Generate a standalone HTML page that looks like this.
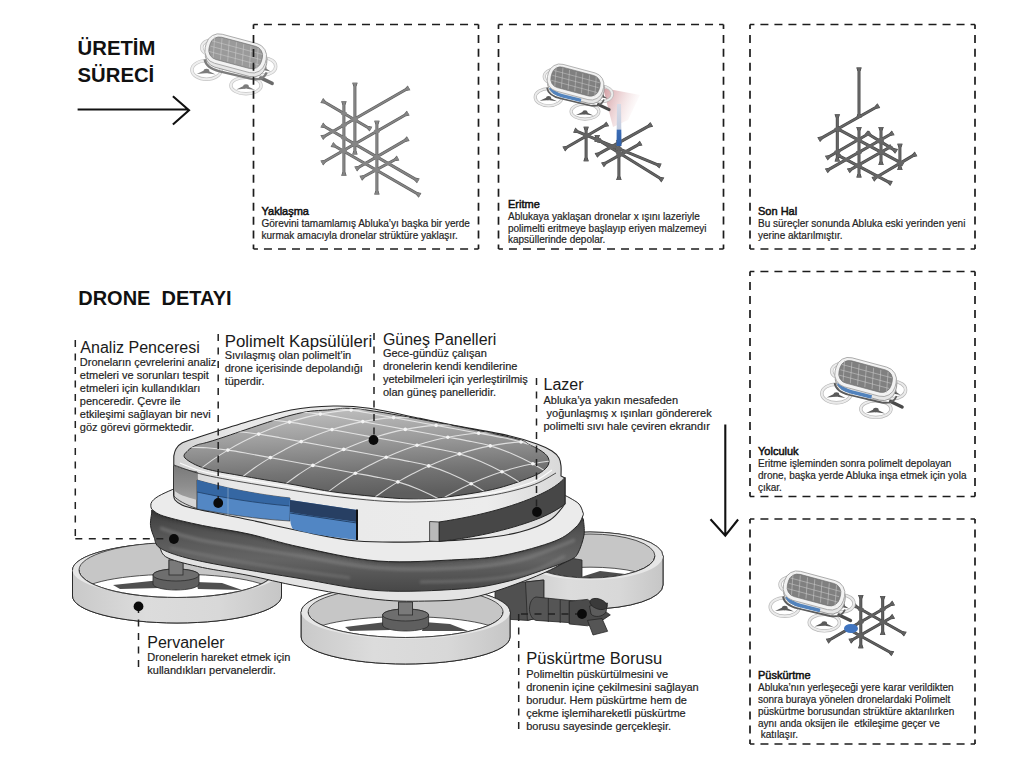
<!DOCTYPE html>
<html><head><meta charset="utf-8"><style>
html,body{margin:0;padding:0;background:#fff;width:1024px;height:768px;overflow:hidden}
svg{display:block}
text{font-family:"Liberation Sans",sans-serif;white-space:pre}
</style></head><body>
<svg width="1024" height="768" viewBox="0 0 1024 768">
<rect width="1024" height="768" fill="#fff"/>
<defs><g id="sdb"><ellipse cx="-22" cy="-6" rx="12" ry="8" fill="none" stroke="#b8b8b8" stroke-width="3.4"/><ellipse cx="-22" cy="-6" rx="12" ry="8" fill="none" stroke="#ebebeb" stroke-width="2.0"/><path d="M-30.25 -1.5 L-23.5 -5.5 L-20.5 -2.5 Z M-14.3 -1 L-21 -5 L-23 -2.5 Z" fill="#5a5a5a"/><ellipse cx="-22" cy="-4.5" rx="2.8" ry="2.2" fill="#5a5a5a"/><ellipse cx="28" cy="13" rx="12" ry="8.5" fill="none" stroke="#b8b8b8" stroke-width="3.4"/><ellipse cx="28" cy="13" rx="12" ry="8.5" fill="none" stroke="#ebebeb" stroke-width="2.0"/><path d="M20.5 17.5 L26.5 13.5 L29.5 16.5 Z M35.0 18 L29 14 L27 16.5 Z" fill="#5a5a5a"/><ellipse cx="28" cy="14.5" rx="2.8" ry="2.2" fill="#5a5a5a"/><ellipse cx="-29.2" cy="16.5" rx="14.6" ry="9.3" fill="none" stroke="#b8b8b8" stroke-width="3.4"/><ellipse cx="-29.2" cy="16.5" rx="14.6" ry="9.3" fill="none" stroke="#ebebeb" stroke-width="2.0"/><path d="M-38.95 20.5 L-30.7 16.5 L-27.7 19.5 Z M-20.1 21 L-28.2 17 L-30.2 19.5 Z" fill="#5a5a5a"/><ellipse cx="-29.2" cy="17.5" rx="2.8" ry="2.2" fill="#5a5a5a"/><ellipse cx="10.3" cy="32.1" rx="15.1" ry="8.3" fill="none" stroke="#b8b8b8" stroke-width="3.4"/><ellipse cx="10.3" cy="32.1" rx="15.1" ry="8.3" fill="none" stroke="#ebebeb" stroke-width="2.0"/><path d="M0.5500000000000007 36.0 L8.8 32.0 L11.8 35.0 Z M19.4 36.5 L11.3 32.5 L9.3 35.0 Z" fill="#5a5a5a"/><ellipse cx="10.3" cy="33.0" rx="2.8" ry="2.2" fill="#5a5a5a"/><path d="M25 24.5 L36.5 30" stroke="#4a4a4a" stroke-width="3.4" stroke-linecap="round"/><rect x="-30.5" y="-11" width="62" height="30" rx="13" transform="rotate(15 0.5 4)" fill="#e6e6e6" stroke="#8f8f8f" stroke-width="0.8"/><path d="M-31 6 C-30 13 -24 16 -16 18 L16 25.5 C24 27 29 24 31 19" fill="none" stroke="#5c5c5c" stroke-width="1.8"/><path d="M-27 6 C-25 11 -20 13.5 -14 15 L6 20" fill="none" stroke="#5283bd" stroke-width="3.6"/><rect x="-31" y="-15" width="62" height="30" rx="13" transform="rotate(15 0 0)" fill="#f2f2f2" stroke="#a0a0a0" stroke-width="0.8"/><rect x="-27" y="-12" width="54" height="23" rx="9.5" transform="rotate(15 0 -0.5)" fill="#808080" stroke="#6e6e6e" stroke-width="0.6"/><g transform="rotate(15 0 -0.5)"><path d="M-26 -0.5H26M-26 -6H26M-26 5H26M-24.5 -11L-20.5 10M-17.0 -11L-13.0 10M-9.5 -11L-5.5 10M-2.0 -11L2.0 10M5.5 -11L9.5 10M13.0 -11L17.0 10M20.5 -11L24.5 10" stroke="#cfcfcf" stroke-width="0.6" fill="none" opacity="0.8"/></g></g><g id="sdf"><ellipse cx="-22" cy="-6" rx="12" ry="8" fill="none" stroke="#c4c4c4" stroke-width="3.4"/><ellipse cx="-22" cy="-6" rx="12" ry="8" fill="none" stroke="#eeeeee" stroke-width="2.0"/><path d="M-30.25 -1.5 L-23.5 -5.5 L-20.5 -2.5 Z M-14.3 -1 L-21 -5 L-23 -2.5 Z" fill="#7c7c7c"/><ellipse cx="-22" cy="-4.5" rx="2.8" ry="2.2" fill="#7c7c7c"/><ellipse cx="28" cy="13" rx="12" ry="8.5" fill="none" stroke="#c4c4c4" stroke-width="3.4"/><ellipse cx="28" cy="13" rx="12" ry="8.5" fill="none" stroke="#eeeeee" stroke-width="2.0"/><path d="M20.5 17.5 L26.5 13.5 L29.5 16.5 Z M35.0 18 L29 14 L27 16.5 Z" fill="#7c7c7c"/><ellipse cx="28" cy="14.5" rx="2.8" ry="2.2" fill="#7c7c7c"/><ellipse cx="-29.2" cy="16.5" rx="14.6" ry="9.3" fill="none" stroke="#c4c4c4" stroke-width="3.4"/><ellipse cx="-29.2" cy="16.5" rx="14.6" ry="9.3" fill="none" stroke="#eeeeee" stroke-width="2.0"/><path d="M-38.95 20.5 L-30.7 16.5 L-27.7 19.5 Z M-20.1 21 L-28.2 17 L-30.2 19.5 Z" fill="#7c7c7c"/><ellipse cx="-29.2" cy="17.5" rx="2.8" ry="2.2" fill="#7c7c7c"/><ellipse cx="10.3" cy="32.1" rx="15.1" ry="8.3" fill="none" stroke="#c4c4c4" stroke-width="3.4"/><ellipse cx="10.3" cy="32.1" rx="15.1" ry="8.3" fill="none" stroke="#eeeeee" stroke-width="2.0"/><path d="M0.5500000000000007 36.0 L8.8 32.0 L11.8 35.0 Z M19.4 36.5 L11.3 32.5 L9.3 35.0 Z" fill="#7c7c7c"/><ellipse cx="10.3" cy="33.0" rx="2.8" ry="2.2" fill="#7c7c7c"/><path d="M25 24.5 L36.5 30" stroke="#6a6a6a" stroke-width="3.4" stroke-linecap="round"/><rect x="-30.5" y="-11" width="62" height="30" rx="13" transform="rotate(15 0.5 4)" fill="#e6e6e6" stroke="#8f8f8f" stroke-width="0.8"/><path d="M-31 6 C-30 13 -24 16 -16 18 L16 25.5 C24 27 29 24 31 19" fill="none" stroke="#7d7d7d" stroke-width="2.4"/><rect x="-31" y="-15" width="62" height="30" rx="13" transform="rotate(15 0 0)" fill="#f2f2f2" stroke="#a0a0a0" stroke-width="0.8"/><rect x="-27" y="-12" width="54" height="23" rx="9.5" transform="rotate(15 0 -0.5)" fill="#9a9a9a" stroke="#6e6e6e" stroke-width="0.6"/><g transform="rotate(15 0 -0.5)"><path d="M-26 -0.5H26M-26 -6H26M-26 5H26M-24.5 -11L-20.5 10M-17.0 -11L-13.0 10M-9.5 -11L-5.5 10M-2.0 -11L2.0 10M5.5 -11L9.5 10M13.0 -11L17.0 10M20.5 -11L24.5 10" stroke="#cfcfcf" stroke-width="0.6" fill="none" opacity="0.8"/></g></g>
<linearGradient id="laser" x1="0" y1="0" x2="1" y2="0.4"><stop offset="0" stop-color="#c9878d" stop-opacity="0.85"/><stop offset="1" stop-color="#e8c4c6" stop-opacity="0"/></linearGradient>
<linearGradient id="beam" x1="0" y1="0" x2="0" y2="1"><stop offset="0" stop-color="#d8dbe6"/><stop offset="0.6" stop-color="#c3cde0"/><stop offset="0.62" stop-color="#3b6cb5"/><stop offset="1" stop-color="#2f5fa8"/></linearGradient>
</defs>
<path d="M354.9 83.7L354.9 153.6" stroke="#5a5a5a" stroke-width="3.0"/><path d="M352.1 82.7L357.7 82.7L356.4 86.2L353.4 86.2Z" fill="#5a5a5a"/><path d="M352.1 154.6L357.7 154.6L356.4 151.1L353.4 151.1Z" fill="#5a5a5a"/><path d="M343.9 102.3L343.9 174.8" stroke="#5a5a5a" stroke-width="3.0"/><path d="M341.1 101.3L346.7 101.3L345.4 104.8L342.4 104.8Z" fill="#5a5a5a"/><path d="M341.1 175.8L346.7 175.8L345.4 172.3L342.4 172.3Z" fill="#5a5a5a"/><path d="M376.9 121.8L376.9 193.4" stroke="#5a5a5a" stroke-width="3.0"/><path d="M374.1 120.8L379.7 120.8L378.4 124.3L375.4 124.3Z" fill="#5a5a5a"/><path d="M374.1 194.4L379.7 194.4L378.4 190.9L375.4 190.9Z" fill="#5a5a5a"/><path d="M322.7 137.2L408.1 88.3" stroke="#5a5a5a" stroke-width="3.0"/><path d="M323.2 140.1L320.4 135.3L324.1 134.7L325.6 137.3Z" fill="#5a5a5a"/><path d="M410.4 90.2L407.6 85.4L405.2 88.2L406.7 90.8Z" fill="#5a5a5a"/><path d="M322.7 162.5L407.3 113.7" stroke="#5a5a5a" stroke-width="3.0"/><path d="M323.2 165.4L320.4 160.6L324.1 160.0L325.6 162.6Z" fill="#5a5a5a"/><path d="M409.6 115.6L406.8 110.8L404.4 113.6L405.9 116.2Z" fill="#5a5a5a"/><path d="M356.6 168.5L407.3 139.1" stroke="#5a5a5a" stroke-width="3.0"/><path d="M357.1 171.4L354.3 166.6L358.0 165.9L359.5 168.5Z" fill="#5a5a5a"/><path d="M409.6 141.0L406.8 136.2L404.4 139.1L405.9 141.7Z" fill="#5a5a5a"/><path d="M361.7 177.8L397.1 158.5" stroke="#5a5a5a" stroke-width="3.0"/><path d="M362.1 180.8L359.5 175.8L363.2 175.3L364.6 177.9Z" fill="#5a5a5a"/><path d="M399.3 160.5L396.7 155.5L394.2 158.4L395.6 161.0Z" fill="#5a5a5a"/><path d="M322.7 101.0L370.0 128.7" stroke="#5a5a5a" stroke-width="3.0"/><path d="M320.4 102.9L323.2 98.1L325.6 101.0L324.1 103.6Z" fill="#5a5a5a"/><path d="M369.5 131.6L372.3 126.8L368.6 126.1L367.1 128.7Z" fill="#5a5a5a"/><path d="M322.7 125.5L417.4 180.4" stroke="#5a5a5a" stroke-width="3.0"/><path d="M320.4 127.4L323.2 122.6L325.6 125.5L324.1 128.1Z" fill="#5a5a5a"/><path d="M416.9 183.3L419.7 178.5L416.0 177.8L414.5 180.4Z" fill="#5a5a5a"/><path d="M332.9 145.0L419.1 194.8" stroke="#5a5a5a" stroke-width="3.0"/><path d="M330.6 146.9L333.4 142.1L335.8 145.0L334.3 147.5Z" fill="#5a5a5a"/><path d="M418.6 197.7L421.4 192.9L417.7 192.3L416.2 194.8Z" fill="#5a5a5a"/><path d="M354.9 83.7L354.9 153.6" stroke="#858585" stroke-width="1.7999999999999998"/><path d="M352.7 82.7L357.1 82.7L355.8 86.2L354.0 86.2Z" fill="#858585"/><path d="M352.7 154.6L357.1 154.6L355.8 151.1L354.0 151.1Z" fill="#858585"/><path d="M343.9 102.3L343.9 174.8" stroke="#858585" stroke-width="1.7999999999999998"/><path d="M341.7 101.3L346.1 101.3L344.8 104.8L343.0 104.8Z" fill="#858585"/><path d="M341.7 175.8L346.1 175.8L344.8 172.3L343.0 172.3Z" fill="#858585"/><path d="M376.9 121.8L376.9 193.4" stroke="#858585" stroke-width="1.7999999999999998"/><path d="M374.7 120.8L379.1 120.8L377.8 124.3L376.0 124.3Z" fill="#858585"/><path d="M374.7 194.4L379.1 194.4L377.8 190.9L376.0 190.9Z" fill="#858585"/><path d="M322.7 137.2L408.1 88.3" stroke="#858585" stroke-width="1.7999999999999998"/><path d="M322.9 139.6L320.7 135.8L324.4 135.2L325.3 136.7Z" fill="#858585"/><path d="M410.1 89.7L407.9 85.9L405.5 88.8L406.4 90.3Z" fill="#858585"/><path d="M322.7 162.5L407.3 113.7" stroke="#858585" stroke-width="1.7999999999999998"/><path d="M322.9 164.9L320.7 161.1L324.4 160.5L325.3 162.0Z" fill="#858585"/><path d="M409.3 115.1L407.1 111.3L404.7 114.2L405.6 115.7Z" fill="#858585"/><path d="M356.6 168.5L407.3 139.1" stroke="#858585" stroke-width="1.7999999999999998"/><path d="M356.8 170.9L354.6 167.1L358.3 166.5L359.2 168.0Z" fill="#858585"/><path d="M409.3 140.5L407.1 136.7L404.7 139.6L405.6 141.1Z" fill="#858585"/><path d="M361.7 177.8L397.1 158.5" stroke="#858585" stroke-width="1.7999999999999998"/><path d="M361.9 180.2L359.7 176.4L363.4 175.8L364.3 177.4Z" fill="#858585"/><path d="M399.1 159.9L396.9 156.1L394.5 158.9L395.4 160.5Z" fill="#858585"/><path d="M322.7 101.0L370.0 128.7" stroke="#858585" stroke-width="1.7999999999999998"/><path d="M320.7 102.4L322.9 98.6L325.3 101.5L324.4 103.0Z" fill="#858585"/><path d="M369.8 131.1L372.0 127.3L368.3 126.7L367.4 128.2Z" fill="#858585"/><path d="M322.7 125.5L417.4 180.4" stroke="#858585" stroke-width="1.7999999999999998"/><path d="M320.7 126.9L322.9 123.1L325.3 126.0L324.4 127.5Z" fill="#858585"/><path d="M417.2 182.8L419.4 179.0L415.7 178.4L414.8 179.9Z" fill="#858585"/><path d="M332.9 145.0L419.1 194.8" stroke="#858585" stroke-width="1.7999999999999998"/><path d="M330.9 146.4L333.1 142.6L335.5 145.5L334.6 147.0Z" fill="#858585"/><path d="M418.9 197.2L421.1 193.4L417.4 192.8L416.5 194.3Z" fill="#858585"/><ellipse cx="354.9" cy="118.8" rx="3.0999999999999996" ry="1.8399999999999999" fill="#858585"/><ellipse cx="354.9" cy="143.9" rx="3.0999999999999996" ry="1.8399999999999999" fill="#858585"/><ellipse cx="354.9" cy="119.8" rx="3.0999999999999996" ry="1.8399999999999999" fill="#858585"/><ellipse cx="354.9" cy="144.2" rx="3.0999999999999996" ry="1.8399999999999999" fill="#858585"/><ellipse cx="343.9" cy="125.1" rx="3.0999999999999996" ry="1.8399999999999999" fill="#858585"/><ellipse cx="343.9" cy="150.3" rx="3.0999999999999996" ry="1.8399999999999999" fill="#858585"/><ellipse cx="343.9" cy="113.4" rx="3.0999999999999996" ry="1.8399999999999999" fill="#858585"/><ellipse cx="343.9" cy="137.8" rx="3.0999999999999996" ry="1.8399999999999999" fill="#858585"/><ellipse cx="343.9" cy="151.4" rx="3.0999999999999996" ry="1.8399999999999999" fill="#858585"/><ellipse cx="376.9" cy="131.2" rx="3.0999999999999996" ry="1.8399999999999999" fill="#858585"/><ellipse cx="376.9" cy="156.7" rx="3.0999999999999996" ry="1.8399999999999999" fill="#858585"/><ellipse cx="376.9" cy="169.5" rx="3.0999999999999996" ry="1.8399999999999999" fill="#858585"/><ellipse cx="376.9" cy="156.9" rx="3.0999999999999996" ry="1.8399999999999999" fill="#858585"/><ellipse cx="376.9" cy="170.4" rx="3.0999999999999996" ry="1.8399999999999999" fill="#858585"/><ellipse cx="354.0" cy="119.3" rx="3.0999999999999996" ry="1.8399999999999999" fill="#858585"/><ellipse cx="332.8" cy="131.4" rx="3.0999999999999996" ry="1.8399999999999999" fill="#858585"/><ellipse cx="354.7" cy="144.0" rx="3.0999999999999996" ry="1.8399999999999999" fill="#858585"/><ellipse cx="342.9" cy="150.8" rx="3.0999999999999996" ry="1.8399999999999999" fill="#858585"/><ellipse cx="376.7" cy="156.8" rx="3.0999999999999996" ry="1.8399999999999999" fill="#858585"/><ellipse cx="365.1" cy="163.6" rx="3.0999999999999996" ry="1.8399999999999999" fill="#858585"/><ellipse cx="388.1" cy="163.4" rx="3.0999999999999996" ry="1.8399999999999999" fill="#858585"/><ellipse cx="376.1" cy="170.0" rx="3.0999999999999996" ry="1.8399999999999999" fill="#858585"/>
<path d="M603 88 L640 95 L628 120 L613 127 Z" fill="url(#laser)"/>
<path d="M586.1 127.7L586.1 160.3" stroke="#444" stroke-width="3.0"/><path d="M583.3 126.7L588.9 126.7L587.6 130.2L584.6 130.2Z" fill="#444"/><path d="M583.3 161.3L588.9 161.3L587.6 157.8L584.6 157.8Z" fill="#444"/><path d="M597.2 135.9L597.2 141.0" stroke="#444" stroke-width="3.0"/><path d="M594.4 134.9L600.0 134.9L598.7 138.4L595.7 138.4Z" fill="#444"/><path d="M594.4 142.0L600.0 142.0L598.7 138.5L595.7 138.5Z" fill="#444"/><path d="M618.9 141.0L618.9 179.0" stroke="#444" stroke-width="3.0"/><path d="M616.1 140.0L621.7 140.0L620.4 143.5L617.4 143.5Z" fill="#444"/><path d="M616.1 180.0L621.7 180.0L620.4 176.5L617.4 176.5Z" fill="#444"/><path d="M564.7 148.5L606.8 124.3" stroke="#444" stroke-width="3.0"/><path d="M565.2 151.4L562.4 146.6L566.1 146.0L567.6 148.6Z" fill="#444"/><path d="M609.1 126.2L606.3 121.4L603.9 124.2L605.4 126.8Z" fill="#444"/><path d="M596.9 154.9L650.8 124.9" stroke="#444" stroke-width="3.0"/><path d="M597.4 157.8L594.6 153.0L598.3 152.4L599.8 155.0Z" fill="#444"/><path d="M653.1 126.8L650.3 122.0L647.9 124.8L649.4 127.4Z" fill="#444"/><path d="M603.4 164.3L640.2 143.6" stroke="#444" stroke-width="3.0"/><path d="M603.9 167.2L601.1 162.4L604.8 161.8L606.3 164.4Z" fill="#444"/><path d="M642.5 145.5L639.7 140.7L637.3 143.5L638.8 146.1Z" fill="#444"/><path d="M575.2 130.6L659.6 165.6" stroke="#444" stroke-width="3.0"/><path d="M573.2 132.8L575.4 127.6L578.1 130.2L577.0 132.9Z" fill="#444"/><path d="M659.4 168.6L661.6 163.4L657.8 163.3L656.7 166.0Z" fill="#444"/><path d="M599.2 140.5L662.0 179.5" stroke="#444" stroke-width="3.0"/><path d="M596.9 142.4L599.9 137.6L602.2 140.6L600.6 143.1Z" fill="#444"/><path d="M661.3 182.4L664.3 177.6L660.6 176.9L659.0 179.4Z" fill="#444"/><path d="M586.1 127.7L586.1 160.3" stroke="#646464" stroke-width="1.7999999999999998"/><path d="M583.9 126.7L588.3 126.7L587.0 130.2L585.2 130.2Z" fill="#646464"/><path d="M583.9 161.3L588.3 161.3L587.0 157.8L585.2 157.8Z" fill="#646464"/><path d="M597.2 135.9L597.2 141.0" stroke="#646464" stroke-width="1.7999999999999998"/><path d="M595.0 134.9L599.4 134.9L598.1 138.4L596.3 138.4Z" fill="#646464"/><path d="M595.0 142.0L599.4 142.0L598.1 138.5L596.3 138.5Z" fill="#646464"/><path d="M618.9 141.0L618.9 179.0" stroke="#646464" stroke-width="1.7999999999999998"/><path d="M616.7 140.0L621.1 140.0L619.8 143.5L618.0 143.5Z" fill="#646464"/><path d="M616.7 180.0L621.1 180.0L619.8 176.5L618.0 176.5Z" fill="#646464"/><path d="M564.7 148.5L606.8 124.3" stroke="#646464" stroke-width="1.7999999999999998"/><path d="M564.9 150.9L562.7 147.1L566.4 146.5L567.3 148.0Z" fill="#646464"/><path d="M608.8 125.7L606.6 121.9L604.2 124.8L605.1 126.3Z" fill="#646464"/><path d="M596.9 154.9L650.8 124.9" stroke="#646464" stroke-width="1.7999999999999998"/><path d="M597.1 157.3L594.9 153.5L598.6 152.9L599.5 154.5Z" fill="#646464"/><path d="M652.8 126.3L650.6 122.5L648.2 125.3L649.1 126.9Z" fill="#646464"/><path d="M603.4 164.3L640.2 143.6" stroke="#646464" stroke-width="1.7999999999999998"/><path d="M603.6 166.7L601.4 162.9L605.1 162.3L606.0 163.9Z" fill="#646464"/><path d="M642.2 145.0L640.0 141.2L637.6 144.0L638.5 145.6Z" fill="#646464"/><path d="M575.2 130.6L659.6 165.6" stroke="#646464" stroke-width="1.7999999999999998"/><path d="M573.5 132.2L575.1 128.2L577.9 130.7L577.2 132.4Z" fill="#646464"/><path d="M659.7 168.0L661.3 164.0L657.6 163.8L656.9 165.5Z" fill="#646464"/><path d="M599.2 140.5L662.0 179.5" stroke="#646464" stroke-width="1.7999999999999998"/><path d="M597.2 141.9L599.6 138.1L601.8 141.1L600.9 142.6Z" fill="#646464"/><path d="M661.6 181.9L664.0 178.1L660.3 177.4L659.4 178.9Z" fill="#646464"/><ellipse cx="586.1" cy="136.2" rx="3.0999999999999996" ry="1.8399999999999999" fill="#646464"/><ellipse cx="586.1" cy="135.1" rx="3.0999999999999996" ry="1.8399999999999999" fill="#646464"/><ellipse cx="597.2" cy="139.7" rx="3.0999999999999996" ry="1.8399999999999999" fill="#646464"/><ellipse cx="618.9" cy="142.7" rx="3.0999999999999996" ry="1.8399999999999999" fill="#646464"/><ellipse cx="618.9" cy="155.6" rx="3.0999999999999996" ry="1.8399999999999999" fill="#646464"/><ellipse cx="618.9" cy="148.7" rx="3.0999999999999996" ry="1.8399999999999999" fill="#646464"/><ellipse cx="618.9" cy="152.7" rx="3.0999999999999996" ry="1.8399999999999999" fill="#646464"/><ellipse cx="587.2" cy="135.6" rx="3.0999999999999996" ry="1.8399999999999999" fill="#646464"/><ellipse cx="612.7" cy="146.1" rx="3.0999999999999996" ry="1.8399999999999999" fill="#646464"/><ellipse cx="610.3" cy="147.4" rx="3.0999999999999996" ry="1.8399999999999999" fill="#646464"/><ellipse cx="625.9" cy="151.6" rx="3.0999999999999996" ry="1.8399999999999999" fill="#646464"/><ellipse cx="621.3" cy="154.2" rx="3.0999999999999996" ry="1.8399999999999999" fill="#646464"/>
<path d="M617 104 L621 104 L621.5 146 L616.5 146 Z" fill="url(#beam)"/>
<path d="M859.0 68.6L859.0 116.5" stroke="#444" stroke-width="3.0"/><path d="M856.2 67.6L861.8 67.6L860.5 71.1L857.5 71.1Z" fill="#444"/><path d="M856.2 117.5L861.8 117.5L860.5 114.0L857.5 114.0Z" fill="#444"/><path d="M837.3 115.2L837.3 160.6" stroke="#444" stroke-width="3.0"/><path d="M834.5 114.2L840.1 114.2L838.8 117.7L835.8 117.7Z" fill="#444"/><path d="M834.5 161.6L840.1 161.6L838.8 158.1L835.8 158.1Z" fill="#444"/><path d="M859.0 127.9L859.0 176.6" stroke="#444" stroke-width="3.0"/><path d="M856.2 126.9L861.8 126.9L860.5 130.4L857.5 130.4Z" fill="#444"/><path d="M856.2 177.6L861.8 177.6L860.5 174.1L857.5 174.1Z" fill="#444"/><path d="M881.0 127.9L881.0 163.9" stroke="#444" stroke-width="3.0"/><path d="M878.2 126.9L883.8 126.9L882.5 130.4L879.5 130.4Z" fill="#444"/><path d="M878.2 164.9L883.8 164.9L882.5 161.4L879.5 161.4Z" fill="#444"/><path d="M899.9 144.8L899.9 169.0" stroke="#444" stroke-width="3.0"/><path d="M897.1 143.8L902.7 143.8L901.4 147.3L898.4 147.3Z" fill="#444"/><path d="M897.1 170.0L902.7 170.0L901.4 166.5L898.4 166.5Z" fill="#444"/><path d="M819.6 139.1L877.9 106.2" stroke="#444" stroke-width="3.0"/><path d="M820.1 142.0L817.3 137.2L821.0 136.6L822.5 139.2Z" fill="#444"/><path d="M880.2 108.1L877.4 103.3L875.0 106.1L876.5 108.7Z" fill="#444"/><path d="M827.2 157.7L869.4 133.3" stroke="#444" stroke-width="3.0"/><path d="M827.7 160.6L824.9 155.8L828.6 155.2L830.1 157.7Z" fill="#444"/><path d="M871.7 135.2L868.9 130.4L866.5 133.3L868.0 135.8Z" fill="#444"/><path d="M827.2 170.4L892.3 133.3" stroke="#444" stroke-width="3.0"/><path d="M827.7 173.3L824.9 168.5L828.6 167.9L830.1 170.5Z" fill="#444"/><path d="M894.6 135.2L891.8 130.4L889.4 133.2L890.9 135.8Z" fill="#444"/><path d="M849.2 170.4L890.6 146.8" stroke="#444" stroke-width="3.0"/><path d="M849.7 173.3L846.9 168.5L850.6 167.9L852.1 170.5Z" fill="#444"/><path d="M892.9 148.7L890.1 143.9L887.7 146.7L889.2 149.3Z" fill="#444"/><path d="M873.8 178.8L915.1 154.4" stroke="#444" stroke-width="3.0"/><path d="M874.3 181.7L871.5 176.9L875.2 176.2L876.7 178.8Z" fill="#444"/><path d="M917.4 156.3L914.6 151.5L912.2 154.4L913.7 157.0Z" fill="#444"/><path d="M838.2 129.1L902.4 163.6" stroke="#444" stroke-width="3.0"/><path d="M836.0 131.1L838.6 126.1L841.1 128.9L839.7 131.6Z" fill="#444"/><path d="M902.0 166.6L904.6 161.6L900.9 161.1L899.5 163.8Z" fill="#444"/><path d="M838.2 155.3L890.6 183.1" stroke="#444" stroke-width="3.0"/><path d="M836.0 157.3L838.6 152.3L841.1 155.1L839.7 157.8Z" fill="#444"/><path d="M890.2 186.1L892.8 181.1L889.1 180.6L887.7 183.3Z" fill="#444"/><path d="M867.0 133.3L895.7 150.9" stroke="#444" stroke-width="3.0"/><path d="M864.6 135.2L867.6 130.4L869.9 133.3L868.3 135.9Z" fill="#444"/><path d="M895.1 153.8L898.1 149.0L894.4 148.3L892.8 150.9Z" fill="#444"/><path d="M859.0 68.6L859.0 116.5" stroke="#666" stroke-width="1.7999999999999998"/><path d="M856.8 67.6L861.2 67.6L859.9 71.1L858.1 71.1Z" fill="#666"/><path d="M856.8 117.5L861.2 117.5L859.9 114.0L858.1 114.0Z" fill="#666"/><path d="M837.3 115.2L837.3 160.6" stroke="#666" stroke-width="1.7999999999999998"/><path d="M835.1 114.2L839.5 114.2L838.2 117.7L836.4 117.7Z" fill="#666"/><path d="M835.1 161.6L839.5 161.6L838.2 158.1L836.4 158.1Z" fill="#666"/><path d="M859.0 127.9L859.0 176.6" stroke="#666" stroke-width="1.7999999999999998"/><path d="M856.8 126.9L861.2 126.9L859.9 130.4L858.1 130.4Z" fill="#666"/><path d="M856.8 177.6L861.2 177.6L859.9 174.1L858.1 174.1Z" fill="#666"/><path d="M881.0 127.9L881.0 163.9" stroke="#666" stroke-width="1.7999999999999998"/><path d="M878.8 126.9L883.2 126.9L881.9 130.4L880.1 130.4Z" fill="#666"/><path d="M878.8 164.9L883.2 164.9L881.9 161.4L880.1 161.4Z" fill="#666"/><path d="M899.9 144.8L899.9 169.0" stroke="#666" stroke-width="1.7999999999999998"/><path d="M897.7 143.8L902.1 143.8L900.8 147.3L899.0 147.3Z" fill="#666"/><path d="M897.7 170.0L902.1 170.0L900.8 166.5L899.0 166.5Z" fill="#666"/><path d="M819.6 139.1L877.9 106.2" stroke="#666" stroke-width="1.7999999999999998"/><path d="M819.8 141.5L817.6 137.7L821.3 137.1L822.2 138.7Z" fill="#666"/><path d="M879.9 107.6L877.7 103.8L875.3 106.6L876.2 108.2Z" fill="#666"/><path d="M827.2 157.7L869.4 133.3" stroke="#666" stroke-width="1.7999999999999998"/><path d="M827.4 160.1L825.2 156.3L828.9 155.7L829.8 157.2Z" fill="#666"/><path d="M871.4 134.7L869.2 130.9L866.8 133.8L867.7 135.3Z" fill="#666"/><path d="M827.2 170.4L892.3 133.3" stroke="#666" stroke-width="1.7999999999999998"/><path d="M827.4 172.8L825.2 169.0L828.9 168.4L829.8 169.9Z" fill="#666"/><path d="M894.3 134.7L892.1 130.9L889.7 133.8L890.6 135.3Z" fill="#666"/><path d="M849.2 170.4L890.6 146.8" stroke="#666" stroke-width="1.7999999999999998"/><path d="M849.4 172.8L847.2 169.0L850.9 168.4L851.8 170.0Z" fill="#666"/><path d="M892.6 148.2L890.4 144.4L888.0 147.2L888.9 148.8Z" fill="#666"/><path d="M873.8 178.8L915.1 154.4" stroke="#666" stroke-width="1.7999999999999998"/><path d="M874.0 181.2L871.8 177.4L875.5 176.7L876.4 178.3Z" fill="#666"/><path d="M917.1 155.8L914.9 152.0L912.5 154.9L913.4 156.5Z" fill="#666"/><path d="M838.2 129.1L902.4 163.6" stroke="#666" stroke-width="1.7999999999999998"/><path d="M836.3 130.5L838.3 126.7L840.8 129.5L840.0 131.1Z" fill="#666"/><path d="M902.3 166.0L904.3 162.2L900.6 161.6L899.8 163.2Z" fill="#666"/><path d="M838.2 155.3L890.6 183.1" stroke="#666" stroke-width="1.7999999999999998"/><path d="M836.3 156.7L838.3 152.9L840.8 155.6L840.0 157.2Z" fill="#666"/><path d="M890.5 185.5L892.5 181.7L888.8 181.2L888.0 182.8Z" fill="#666"/><path d="M867.0 133.3L895.7 150.9" stroke="#666" stroke-width="1.7999999999999998"/><path d="M865.0 134.7L867.2 130.9L869.6 133.9L868.6 135.4Z" fill="#666"/><path d="M895.5 153.3L897.7 149.5L894.1 148.8L893.1 150.3Z" fill="#666"/><ellipse cx="837.3" cy="129.1" rx="3.0999999999999996" ry="1.8399999999999999" fill="#666"/><ellipse cx="837.3" cy="151.8" rx="3.0999999999999996" ry="1.8399999999999999" fill="#666"/><ellipse cx="859.0" cy="139.3" rx="3.0999999999999996" ry="1.8399999999999999" fill="#666"/><ellipse cx="859.0" cy="152.3" rx="3.0999999999999996" ry="1.8399999999999999" fill="#666"/><ellipse cx="859.0" cy="164.8" rx="3.0999999999999996" ry="1.8399999999999999" fill="#666"/><ellipse cx="859.0" cy="140.3" rx="3.0999999999999996" ry="1.8399999999999999" fill="#666"/><ellipse cx="859.0" cy="166.3" rx="3.0999999999999996" ry="1.8399999999999999" fill="#666"/><ellipse cx="881.0" cy="139.7" rx="3.0999999999999996" ry="1.8399999999999999" fill="#666"/><ellipse cx="881.0" cy="152.3" rx="3.0999999999999996" ry="1.8399999999999999" fill="#666"/><ellipse cx="881.0" cy="152.1" rx="3.0999999999999996" ry="1.8399999999999999" fill="#666"/><ellipse cx="881.0" cy="141.9" rx="3.0999999999999996" ry="1.8399999999999999" fill="#666"/><ellipse cx="899.9" cy="163.4" rx="3.0999999999999996" ry="1.8399999999999999" fill="#666"/><ellipse cx="899.9" cy="162.3" rx="3.0999999999999996" ry="1.8399999999999999" fill="#666"/><ellipse cx="858.1" cy="139.8" rx="3.0999999999999996" ry="1.8399999999999999" fill="#666"/><ellipse cx="868.1" cy="134.0" rx="3.0999999999999996" ry="1.8399999999999999" fill="#666"/><ellipse cx="869.8" cy="146.1" rx="3.0999999999999996" ry="1.8399999999999999" fill="#666"/><ellipse cx="846.2" cy="159.5" rx="3.0999999999999996" ry="1.8399999999999999" fill="#666"/><ellipse cx="879.2" cy="140.8" rx="3.0999999999999996" ry="1.8399999999999999" fill="#666"/><ellipse cx="881.2" cy="152.2" rx="3.0999999999999996" ry="1.8399999999999999" fill="#666"/><ellipse cx="857.6" cy="165.6" rx="3.0999999999999996" ry="1.8399999999999999" fill="#666"/><ellipse cx="889.8" cy="147.3" rx="3.0999999999999996" ry="1.8399999999999999" fill="#666"/><ellipse cx="900.9" cy="162.8" rx="3.0999999999999996" ry="1.8399999999999999" fill="#666"/><ellipse cx="877.9" cy="176.4" rx="3.0999999999999996" ry="1.8399999999999999" fill="#666"/>
<path d="M860.8 596.0L860.8 647.3" stroke="#404040" stroke-width="3.0"/><path d="M858.0 595.0L863.6 595.0L862.3 598.5L859.3 598.5Z" fill="#404040"/><path d="M858.0 648.3L863.6 648.3L862.3 644.8L859.3 644.8Z" fill="#404040"/><path d="M882.7 597.0L882.7 634.0" stroke="#404040" stroke-width="3.0"/><path d="M879.9 596.0L885.5 596.0L884.2 599.5L881.2 599.5Z" fill="#404040"/><path d="M879.9 635.0L885.5 635.0L884.2 631.5L881.2 631.5Z" fill="#404040"/><path d="M828.1 640.8L892.7 603.5" stroke="#404040" stroke-width="3.0"/><path d="M828.6 643.7L825.8 638.8L829.5 638.2L831.0 640.8Z" fill="#404040"/><path d="M895.0 605.4L892.2 600.6L889.8 603.4L891.3 606.0Z" fill="#404040"/><path d="M850.7 640.8L892.7 616.7" stroke="#404040" stroke-width="3.0"/><path d="M851.2 643.7L848.4 638.8L852.1 638.2L853.6 640.8Z" fill="#404040"/><path d="M895.0 618.7L892.2 613.8L889.8 616.7L891.3 619.3Z" fill="#404040"/><path d="M854.6 605.8L904.4 633.7" stroke="#404040" stroke-width="3.0"/><path d="M852.4 607.7L855.1 602.9L857.5 605.7L856.1 608.3Z" fill="#404040"/><path d="M903.9 636.6L906.7 631.8L903.0 631.2L901.5 633.8Z" fill="#404040"/><path d="M848.4 629.2L891.9 653.3" stroke="#404040" stroke-width="3.0"/><path d="M846.1 631.2L848.9 626.3L851.3 629.1L849.8 631.8Z" fill="#404040"/><path d="M891.4 656.2L894.2 651.3L890.5 650.7L889.0 653.4Z" fill="#404040"/><path d="M860.8 596.0L860.8 647.3" stroke="#606060" stroke-width="1.7999999999999998"/><path d="M858.6 595.0L863.0 595.0L861.7 598.5L859.9 598.5Z" fill="#606060"/><path d="M858.6 648.3L863.0 648.3L861.7 644.8L859.9 644.8Z" fill="#606060"/><path d="M882.7 597.0L882.7 634.0" stroke="#606060" stroke-width="1.7999999999999998"/><path d="M880.5 596.0L884.9 596.0L883.6 599.5L881.8 599.5Z" fill="#606060"/><path d="M880.5 635.0L884.9 635.0L883.6 631.5L881.8 631.5Z" fill="#606060"/><path d="M828.1 640.8L892.7 603.5" stroke="#606060" stroke-width="1.7999999999999998"/><path d="M828.3 643.2L826.1 639.3L829.8 638.7L830.7 640.3Z" fill="#606060"/><path d="M894.7 604.9L892.5 601.1L890.1 604.0L891.0 605.5Z" fill="#606060"/><path d="M850.7 640.8L892.7 616.7" stroke="#606060" stroke-width="1.7999999999999998"/><path d="M850.9 643.2L848.7 639.3L852.4 638.7L853.3 640.3Z" fill="#606060"/><path d="M894.7 618.2L892.5 614.3L890.1 617.2L891.0 618.8Z" fill="#606060"/><path d="M854.6 605.8L904.4 633.7" stroke="#606060" stroke-width="1.7999999999999998"/><path d="M852.7 607.2L854.8 603.4L857.2 606.2L856.4 607.8Z" fill="#606060"/><path d="M904.2 636.1L906.4 632.3L902.7 631.7L901.8 633.3Z" fill="#606060"/><path d="M848.4 629.2L891.9 653.3" stroke="#606060" stroke-width="1.7999999999999998"/><path d="M846.4 630.7L848.6 626.8L851.0 629.7L850.1 631.2Z" fill="#606060"/><path d="M891.7 655.7L893.9 651.8L890.2 651.3L889.3 652.8Z" fill="#606060"/><ellipse cx="860.8" cy="621.9" rx="3.0999999999999996" ry="1.8399999999999999" fill="#606060"/><ellipse cx="860.8" cy="635.0" rx="3.0999999999999996" ry="1.8399999999999999" fill="#606060"/><ellipse cx="860.8" cy="609.3" rx="3.0999999999999996" ry="1.8399999999999999" fill="#606060"/><ellipse cx="860.8" cy="636.1" rx="3.0999999999999996" ry="1.8399999999999999" fill="#606060"/><ellipse cx="882.7" cy="609.3" rx="3.0999999999999996" ry="1.8399999999999999" fill="#606060"/><ellipse cx="882.7" cy="622.5" rx="3.0999999999999996" ry="1.8399999999999999" fill="#606060"/><ellipse cx="882.7" cy="621.5" rx="3.0999999999999996" ry="1.8399999999999999" fill="#606060"/><ellipse cx="871.9" cy="615.5" rx="3.0999999999999996" ry="1.8399999999999999" fill="#606060"/><ellipse cx="883.5" cy="622.0" rx="3.0999999999999996" ry="1.8399999999999999" fill="#606060"/><ellipse cx="859.8" cy="635.5" rx="3.0999999999999996" ry="1.8399999999999999" fill="#606060"/>
<filter id="sb" x="-20%" y="-20%" width="140%" height="140%"><feGaussianBlur stdDeviation="0.45"/></filter>
<use href="#sdf" transform="translate(235.7 53.4)" filter="url(#sb)"/>
<use href="#sdb" transform="translate(575.5 82) scale(0.92)"/>
<use href="#sdb" transform="translate(865.6 377)"/>
<use href="#sdb" transform="translate(814 590.5)"/>
<ellipse cx="851" cy="628.5" rx="7" ry="4.5" fill="#3f74c0"/>
<linearGradient id="rf" x1="0" y1="0" x2="1" y2="0"><stop offset="0" stop-color="#c9c9c9"/><stop offset="0.35" stop-color="#dcdcdc"/><stop offset="0.7" stop-color="#d8d8d8"/><stop offset="1" stop-color="#c6c6c6"/></linearGradient>
<path d="M517 556 A73 24 0 0 1 663 556 L663 585 A73 24 0 0 1 517 585 Z" fill="url(#rf)" stroke="#2b2b2b" stroke-width="1.0"/>
<ellipse cx="590" cy="556" rx="73" ry="24" fill="#e6e6e6" stroke="#2b2b2b" stroke-width="0.8"/>
<ellipse cx="590" cy="556" rx="65" ry="22" fill="#c6c6c6" stroke="#2b2b2b" stroke-width="0.8"/>
<clipPath id="c590"><ellipse cx="590" cy="556" rx="65" ry="22"/></clipPath>
<g clip-path="url(#c590)">
<ellipse cx="590" cy="583" rx="65" ry="15.84" fill="#fff" stroke="#2b2b2b" stroke-width="0.8"/>
<path d="M578 578 L600 571 L625 574 L612 580 Z" fill="#4e4e4e"/>
<path d="M543.8 573 L573 558.5 L582 560 L582 590 L543.8 590 Z" fill="#4d4d4d" stroke="#262626" stroke-width="0.8"/>
</g>
<path d="M525 556 A65 22 0 0 0 655 556 L663 556 L663 585 A73 24 0 0 1 517 585 L517 556 Z" fill="url(#rf)" stroke="none"/>
<path d="M517 556 L517 585 A73 24 0 0 0 663 585 L663 556" fill="none" stroke="#2b2b2b" stroke-width="1.0"/>
<path d="M525 556 A65 22 0 0 0 655 556" fill="none" stroke="#2b2b2b" stroke-width="0.8"/>
<path d="M517 556 A73 24 0 0 0 663 556 L655 556 A65 22 0 0 1 525 556 Z" fill="#e6e6e6" stroke="none"/>
<path d="M525 556 A65 22 0 0 0 655 556" fill="none" stroke="#2b2b2b" stroke-width="0.8"/>
<path d="M72.5 570 A104.5 27 0 0 1 281.5 570 L281.5 596 A104.5 27 0 0 1 72.5 596 Z" fill="url(#rf)" stroke="#2b2b2b" stroke-width="1.0"/>
<ellipse cx="177" cy="570" rx="104.5" ry="27" fill="#e6e6e6" stroke="#2b2b2b" stroke-width="0.8"/>
<ellipse cx="177" cy="570" rx="98" ry="27.5" fill="#c6c6c6" stroke="#2b2b2b" stroke-width="0.8"/>
<clipPath id="c177"><ellipse cx="177" cy="570" rx="98" ry="27.5"/></clipPath>
<g clip-path="url(#c177)">
<ellipse cx="177" cy="594" rx="98" ry="19.8" fill="#fff" stroke="#2b2b2b" stroke-width="0.8"/>
<path d="M113 585 L156 580.5 L160 588 L120 589 Z" fill="#505050"/>
<path d="M196 582 L222 583 L242 590 L198 589 Z" fill="#505050"/>
<rect x="169.0" y="560" width="14" height="19" fill="#7a7a7a" stroke="#2b2b2b" stroke-width="0.8"/>
<path d="M153 575 A23 6 0 0 1 199 575 L199 584 A23 6 0 0 1 153 584 Z" fill="#5f5f5f" stroke="#2b2b2b" stroke-width="0.8"/>
<ellipse cx="176" cy="575" rx="23" ry="6" fill="#6e6e6e" stroke="#2b2b2b" stroke-width="0.8"/>
<rect x="169.0" y="560" width="14" height="15" fill="#7a7a7a" stroke="#2b2b2b" stroke-width="0.8"/>
</g>
<path d="M79 570 A98 27.5 0 0 0 275 570 L281.5 570 L281.5 596 A104.5 27 0 0 1 72.5 596 L72.5 570 Z" fill="url(#rf)" stroke="none"/>
<path d="M72.5 570 L72.5 596 A104.5 27 0 0 0 281.5 596 L281.5 570" fill="none" stroke="#2b2b2b" stroke-width="1.0"/>
<path d="M79 570 A98 27.5 0 0 0 275 570" fill="none" stroke="#2b2b2b" stroke-width="0.8"/>
<path d="M72.5 570 A104.5 27 0 0 0 281.5 570 L275 570 A98 27.5 0 0 1 79 570 Z" fill="#e6e6e6" stroke="none"/>
<path d="M79 570 A98 27.5 0 0 0 275 570" fill="none" stroke="#2b2b2b" stroke-width="0.8"/>
<path d="M495 585 L525.5 582 L543.8 580 L543.8 616.7 L527.4 620.4 L495 618.5 Z" fill="#505050" stroke="#262626" stroke-width="0.8"/>
<path d="M525.5 582 L543.8 580 L543.8 616.7 L527.4 620.4 Z" fill="#5e5e5e" stroke="#262626" stroke-width="0.8"/>
<path d="M301.20000000000005 612 A104.4 27 0 0 1 510.0 612 L510.0 637 A104.4 27 0 0 1 301.20000000000005 637 Z" fill="url(#rf)" stroke="#2b2b2b" stroke-width="1.0"/>
<ellipse cx="405.6" cy="612" rx="104.4" ry="27" fill="#e6e6e6" stroke="#2b2b2b" stroke-width="0.8"/>
<ellipse cx="405.6" cy="612" rx="97.5" ry="25.5" fill="#c6c6c6" stroke="#2b2b2b" stroke-width="0.8"/>
<clipPath id="c405"><ellipse cx="405.6" cy="612" rx="97.5" ry="25.5"/></clipPath>
<g clip-path="url(#c405)">
<ellipse cx="405.6" cy="635" rx="97.5" ry="18.36" fill="#fff" stroke="#2b2b2b" stroke-width="0.8"/>
<path d="M345 627 L386 622 L390 630 L350 631 Z" fill="#505050"/>
<path d="M424 622 L450 624 L468 631 L422 631 Z" fill="#505050"/>
<rect x="398.6" y="602" width="14" height="17" fill="#7a7a7a" stroke="#2b2b2b" stroke-width="0.8"/>
<path d="M382.6 615 A23 6 0 0 1 428.6 615 L428.6 625 A23 6 0 0 1 382.6 625 Z" fill="#5f5f5f" stroke="#2b2b2b" stroke-width="0.8"/>
<ellipse cx="405.6" cy="615" rx="23" ry="6" fill="#6e6e6e" stroke="#2b2b2b" stroke-width="0.8"/>
<rect x="398.6" y="602" width="14" height="13" fill="#7a7a7a" stroke="#2b2b2b" stroke-width="0.8"/>
</g>
<path d="M308.1 612 A97.5 25.5 0 0 0 503.1 612 L510.0 612 L510.0 637 A104.4 27 0 0 1 301.20000000000005 637 L301.20000000000005 612 Z" fill="url(#rf)" stroke="none"/>
<path d="M301.20000000000005 612 L301.20000000000005 637 A104.4 27 0 0 0 510.0 637 L510.0 612" fill="none" stroke="#2b2b2b" stroke-width="1.0"/>
<path d="M308.1 612 A97.5 25.5 0 0 0 503.1 612" fill="none" stroke="#2b2b2b" stroke-width="0.8"/>
<path d="M301.20000000000005 612 A104.4 27 0 0 0 510.0 612 L503.1 612 A97.5 25.5 0 0 1 308.1 612 Z" fill="#e6e6e6" stroke="none"/>
<path d="M308.1 612 A97.5 25.5 0 0 0 503.1 612" fill="none" stroke="#2b2b2b" stroke-width="0.8"/><path d="M160.0 548.0 C161.3 549.7 160.9 554.8 168.0 558.0 C175.1 561.2 189.0 564.6 202.5 567.5 C216.0 570.4 232.8 572.3 249.0 575.5 C265.2 578.7 278.5 582.5 300.0 586.5 C321.5 590.5 356.3 597.1 378.0 599.5 C399.7 601.9 414.7 601.2 430.0 601.0 C445.3 600.8 457.5 600.2 470.0 598.0 C482.5 595.8 492.3 592.3 505.0 588.0 C517.7 583.7 534.3 577.3 546.0 572.0 C557.7 566.7 570.2 558.7 575.0 556.0L575.0 530.0 C505.8 528.3 229.2 521.7 160.0 520.0Z" fill="#e3e3e3" stroke="#262626" stroke-width="1"/>
<linearGradient id="tg" x1="0" y1="0" x2="0" y2="1"><stop offset="0" stop-color="#3c3c3c"/><stop offset="0.3" stop-color="#555"/><stop offset="0.6" stop-color="#646464"/><stop offset="1" stop-color="#474747"/></linearGradient>
<path d="M583.5 520.0 C583.6 522.5 584.9 529.5 584.0 535.0 C583.1 540.5 580.3 548.8 578.0 553.0 C575.7 557.2 575.3 557.3 570.0 560.0 C564.7 562.7 556.8 565.3 546.0 569.0 C535.2 572.7 519.3 578.7 505.0 582.0 C490.7 585.3 481.2 587.6 460.0 589.0 C438.8 590.4 404.7 592.4 378.0 590.6 C351.3 588.9 324.0 582.4 300.0 578.5 C276.0 574.6 252.6 570.9 233.8 567.5 C214.9 564.1 199.3 561.2 187.0 558.0 C174.7 554.8 165.5 551.5 160.0 548.0 C154.5 544.5 155.6 540.8 154.0 537.0 C152.4 533.2 150.9 529.3 150.5 525.3 C150.1 521.3 151.5 515.0 151.7 513.0L151.7 510.0 C153.6 511.0 154.9 513.4 163.4 516.0 C171.9 518.6 188.2 522.5 202.5 525.5 C216.8 528.5 232.8 530.4 249.0 534.0 C265.2 537.6 278.5 542.5 300.0 547.0 C321.5 551.5 351.3 558.9 378.0 561.0 C404.7 563.1 438.8 560.5 460.0 559.5 C481.2 558.5 489.2 558.2 505.0 555.0 C520.8 551.8 542.1 546.2 555.0 540.0 C567.9 533.8 577.9 521.2 582.5 517.5Z" fill="url(#tg)" stroke="#262626" stroke-width="1"/>
<clipPath id="tc"><path d="M583.5 520.0 C583.6 522.5 584.9 529.5 584.0 535.0 C583.1 540.5 580.3 548.8 578.0 553.0 C575.7 557.2 575.3 557.3 570.0 560.0 C564.7 562.7 556.8 565.3 546.0 569.0 C535.2 572.7 519.3 578.7 505.0 582.0 C490.7 585.3 481.2 587.6 460.0 589.0 C438.8 590.4 404.7 592.4 378.0 590.6 C351.3 588.9 324.0 582.4 300.0 578.5 C276.0 574.6 252.6 570.9 233.8 567.5 C214.9 564.1 199.3 561.2 187.0 558.0 C174.7 554.8 165.5 551.5 160.0 548.0 C154.5 544.5 155.6 540.8 154.0 537.0 C152.4 533.2 150.9 529.3 150.5 525.3 C150.1 521.3 151.5 515.0 151.7 513.0L151.7 510.0 C153.6 511.0 154.9 513.4 163.4 516.0 C171.9 518.6 188.2 522.5 202.5 525.5 C216.8 528.5 232.8 530.4 249.0 534.0 C265.2 537.6 278.5 542.5 300.0 547.0 C321.5 551.5 351.3 558.9 378.0 561.0 C404.7 563.1 438.8 560.5 460.0 559.5 C481.2 558.5 489.2 558.2 505.0 555.0 C520.8 551.8 542.1 546.2 555.0 540.0 C567.9 533.8 577.9 521.2 582.5 517.5Z"/></clipPath>
<filter id="bl" x="-10%" y="-50%" width="120%" height="200%"><feGaussianBlur stdDeviation="1.6"/></filter>
<g clip-path="url(#tc)"><path d="M160.0 528.0 C166.7 530.0 176.7 535.3 200.0 540.0 C223.3 544.7 270.3 551.3 300.0 556.0 C329.7 560.7 351.3 566.0 378.0 568.0 C404.7 570.0 436.3 569.3 460.0 568.0 C483.7 566.7 500.8 564.7 520.0 560.0 C539.2 555.3 565.8 543.3 575.0 540.0" stroke="#8c8c8c" stroke-width="3" fill="none" opacity="0.55" filter="url(#bl)"/>
<path d="M170.0 548.0 C180.0 550.0 208.3 556.2 230.0 560.0 C251.7 563.8 280.0 568.0 300.0 571.0 C320.0 574.0 341.7 576.8 350.0 578.0" stroke="#8a8a8a" stroke-width="2.5" fill="none" opacity="0.5" filter="url(#bl)"/>
<path d="M420.0 582.0 C430.0 581.7 461.7 581.7 480.0 580.0 C498.3 578.3 515.8 576.0 530.0 572.0 C544.2 568.0 559.2 558.7 565.0 556.0" stroke="#909090" stroke-width="2.5" fill="none" opacity="0.5" filter="url(#bl)"/>
<path d="M582.5 517.5 C577.9 521.2 567.9 533.8 555.0 540.0 C542.1 546.2 520.8 551.8 505.0 555.0 C489.2 558.2 481.2 558.5 460.0 559.5 C438.8 560.5 404.7 563.1 378.0 561.0 C351.3 558.9 321.5 551.5 300.0 547.0 C278.5 542.5 265.2 537.6 249.0 534.0 C232.8 530.4 216.8 528.5 202.5 525.5 C188.2 522.5 171.9 518.6 163.4 516.0 C154.9 513.4 153.6 511.0 151.7 510.0" stroke="#2a2a2a" stroke-width="3" fill="none" opacity="0.6" filter="url(#bl)"/></g>
<path d="M151.7 509.0 C153.6 510.2 154.9 513.2 163.4 516.0 C171.9 518.8 188.2 522.5 202.5 525.5 C216.8 528.5 232.8 530.4 249.0 534.0 C265.2 537.6 278.5 542.5 300.0 547.0 C321.5 551.5 351.3 558.9 378.0 561.0 C404.7 563.1 438.8 560.5 460.0 559.5 C481.2 558.5 489.2 558.1 505.0 555.0 C520.8 551.9 543.2 545.7 555.0 541.0 C566.8 536.3 571.4 531.2 576.0 527.0 C580.6 522.8 581.7 518.5 582.8 516.0 C583.9 513.5 583.4 514.0 582.8 512.0 C582.2 510.0 581.1 506.3 579.0 504.0 C576.9 501.7 572.8 499.7 570.0 498.0 C567.2 496.3 563.3 494.7 562.0 494.0 L560 480 L200 480 L172.8 489.4 C162 494 153 498 151 503.4 C150.5 506 151 508 151.7 509 Z" fill="#ebebeb" stroke="#262626" stroke-width="1"/>
<linearGradient id="bg" x1="0" y1="0" x2="1" y2="0"><stop offset="0" stop-color="#d0d0d0"/><stop offset="0.15" stop-color="#e8e8e8"/><stop offset="0.8" stop-color="#ececec"/><stop offset="1" stop-color="#d8d8d8"/></linearGradient>
<path d="M173.8 456.0 C174.1 454.8 174.6 451.2 176.0 449.0 C177.4 446.8 178.4 444.9 182.0 443.0 C185.6 441.1 187.0 440.9 197.5 437.5 C208.0 434.1 229.4 427.1 245.0 422.5 C260.6 417.9 276.3 412.8 291.0 410.0 C305.7 407.2 320.3 406.3 333.4 406.0 C346.5 405.7 355.0 406.2 369.4 408.3 C383.8 410.4 405.7 415.5 420.0 418.4 C434.3 421.3 440.0 422.6 455.0 425.5 C470.0 428.4 496.3 432.9 510.0 436.0 C523.7 439.1 530.0 441.5 537.0 444.0 C544.0 446.5 548.3 448.7 552.0 451.0 C555.7 453.3 557.5 455.5 559.0 458.0 C560.5 460.5 560.7 463.0 561.0 466.0 C561.3 469.0 561.0 474.3 561.0 476.0L565.0 478.0L565.0 504.0 C562.5 506.7 557.5 515.3 550.0 520.0 C542.5 524.7 531.7 528.9 520.0 532.0 C508.3 535.1 496.3 536.8 480.0 538.4 C463.7 540.0 442.5 541.4 422.0 541.8 C401.5 542.2 377.3 542.8 357.0 541.0 C336.7 539.2 317.8 534.5 300.0 531.0 C282.2 527.5 267.3 523.7 250.0 520.0 C232.7 516.3 207.3 511.5 196.0 509.0 C184.7 506.5 185.5 506.5 182.0 505.0 C178.5 503.5 176.4 501.7 175.0 500.0 C173.6 498.3 173.8 495.7 173.6 494.8Z" fill="url(#bg)" stroke="#262626" stroke-width="1.1"/>
<path d="M174 466 C182 469 190 471 197 472 L197 508.5 C186 505 177 500 174 496 Z" fill="#d6d6d6" stroke="#262626" stroke-width="0.8"/>
<linearGradient id="gl" x1="0" y1="0" x2="0" y2="1"><stop offset="0" stop-color="#7a7a7a"/><stop offset="0.6" stop-color="#8e8e8e"/><stop offset="1" stop-color="#a2a2a2"/></linearGradient>
<path d="M174 466 C182 469 190 471 197 472 L197 500 C186 497 177 494 174 490 Z" fill="url(#gl)"/>
<path d="M197 480 C225 488 255 494 290 498 L290 521 C255 519 225 514 197 509 Z" fill="#5387c4" stroke="#262626" stroke-width="0.6"/>
<path d="M197 480 C225 488 255 494 290 498 L290 506 C255 503 225 498 197 492 Z" fill="#3567a3"/>
<path d="M197 492 C225 498 255 503 290 506" stroke="#1f3f66" stroke-width="0.8" fill="none"/>
<path d="M228 487 L228 516" stroke="#9fb8cf" stroke-width="1" opacity="0.6"/>
<path d="M290 500 L357 510 L357 540 C330 537 305 533 293 529 C289 525 289 503 290 500 Z" fill="#5186c4"/>
<path d="M290 500 L357 510 L357 522 C330 518 305 515 290 512 Z" fill="#273f63"/>
<path d="M290 513 C310 516 330 519 357 523" stroke="#18304f" stroke-width="0.8" fill="none"/>
<path d="M357 509.5 L357 540" stroke="#111" stroke-width="2"/>
<path d="M439 522 C480 516 520 505 545 492 C555 487 561 482 565 477.5 L565 504 C560 508 552 513 540 518 C515 528 480 537 439 541.5 Z" fill="#474747" stroke="#262626" stroke-width="1"/>
<path d="M429.6 521.5 L439 522 L439 541.5 L429.6 541 Z" fill="#b9b9b9" stroke="#262626" stroke-width="0.8"/>
<linearGradient id="pg" x1="0" y1="0" x2="0.15" y2="1"><stop offset="0" stop-color="#c4c4c4"/><stop offset="0.4" stop-color="#9c9c9c"/><stop offset="0.75" stop-color="#747474"/><stop offset="1" stop-color="#5e5e5e"/></linearGradient>
<path id="panel" d="M185.0 458.0 C182.2 455.0 186.0 452.7 188.0 450.5 C190.0 448.3 192.5 446.8 197.0 445.0 C201.5 443.2 199.5 444.9 215.0 440.0 C230.5 435.1 271.2 420.5 290.0 415.5 C308.8 410.5 314.2 410.8 327.5 410.0 C340.8 409.2 340.4 406.2 370.0 410.5 C399.6 414.8 478.3 430.2 505.0 436.0 C531.7 441.8 523.3 442.1 530.0 445.0 C536.7 447.9 541.8 450.9 545.0 453.7 C548.2 456.5 549.2 459.3 549.0 462.0 C548.8 464.7 547.2 467.4 544.0 470.0 C540.8 472.6 538.6 474.2 530.0 477.5 C521.4 480.8 507.1 486.2 492.5 489.5 C477.9 492.8 456.6 495.9 442.5 497.5 C428.4 499.1 425.4 499.8 408.0 499.0 C390.6 498.2 357.7 495.0 338.0 492.5 C318.3 490.0 306.3 486.8 290.0 484.0 C273.7 481.2 254.2 478.1 240.0 475.5 C225.8 472.9 214.2 471.4 205.0 468.5 C195.8 465.6 187.8 461.0 185.0 458.0Z" fill="url(#pg)" stroke="#262626" stroke-width="1"/>
<clipPath id="pc"><path d="M185.0 458.0 C182.2 455.0 186.0 452.7 188.0 450.5 C190.0 448.3 192.5 446.8 197.0 445.0 C201.5 443.2 199.5 444.9 215.0 440.0 C230.5 435.1 271.2 420.5 290.0 415.5 C308.8 410.5 314.2 410.8 327.5 410.0 C340.8 409.2 340.4 406.2 370.0 410.5 C399.6 414.8 478.3 430.2 505.0 436.0 C531.7 441.8 523.3 442.1 530.0 445.0 C536.7 447.9 541.8 450.9 545.0 453.7 C548.2 456.5 549.2 459.3 549.0 462.0 C548.8 464.7 547.2 467.4 544.0 470.0 C540.8 472.6 538.6 474.2 530.0 477.5 C521.4 480.8 507.1 486.2 492.5 489.5 C477.9 492.8 456.6 495.9 442.5 497.5 C428.4 499.1 425.4 499.8 408.0 499.0 C390.6 498.2 357.7 495.0 338.0 492.5 C318.3 490.0 306.3 486.8 290.0 484.0 C273.7 481.2 254.2 478.1 240.0 475.5 C225.8 472.9 214.2 471.4 205.0 468.5 C195.8 465.6 187.8 461.0 185.0 458.0Z"/></clipPath>
<path d="M174.0 465.0 C179.2 466.7 190.7 471.7 205.0 475.0 C219.3 478.3 237.5 481.3 260.0 485.0 C282.5 488.7 315.3 494.2 340.0 497.0 C364.7 499.8 384.7 502.0 408.0 502.0 C431.3 502.0 459.7 499.7 480.0 497.0 C500.3 494.3 517.3 490.0 530.0 486.0 C542.7 482.0 551.7 475.2 556.0 473.0" stroke="#262626" stroke-width="0.8" fill="none"/>
<path d="M180.0 463.0 C184.2 464.5 191.7 468.8 205.0 472.0 C218.3 475.2 237.5 478.2 260.0 482.0 C282.5 485.8 315.3 492.0 340.0 495.0 C364.7 498.0 384.7 500.0 408.0 500.0 C431.3 500.0 459.7 497.8 480.0 495.0 C500.3 492.2 518.0 487.2 530.0 483.0 C542.0 478.8 548.3 472.2 552.0 470.0" stroke="#fafafa" stroke-width="1.2" fill="none"/>
<g clip-path="url(#pc)"><path d="M123.8 497.1 C126.4 494.5 134.1 486.7 139.2 481.9 C144.3 477.2 149.5 472.7 154.6 468.6 C159.7 464.4 164.9 460.5 170.0 456.9 C175.1 453.4 180.3 450.1 185.4 447.1 C190.5 444.0 195.7 441.2 200.8 438.6 C205.9 435.9 211.1 433.4 216.2 431.1 C221.3 428.7 226.5 426.6 231.6 424.6 C236.7 422.6 241.9 420.7 247.0 419.1 C252.1 417.4 257.3 415.9 262.4 414.6 C267.5 413.2 272.7 412.1 277.8 411.1 C282.9 410.1 288.1 409.2 293.2 408.6 C298.3 407.9 303.5 407.4 308.6 407.1 C313.7 406.7 321.4 406.7 324.0 406.6 M166.3 500.1 C168.9 497.5 176.6 489.7 181.7 484.9 C186.8 480.2 192.0 475.7 197.1 471.6 C202.2 467.4 207.4 463.5 212.5 459.9 C217.6 456.4 222.8 453.1 227.9 450.1 C233.0 447.0 238.2 444.2 243.3 441.6 C248.4 438.9 253.6 436.4 258.7 434.1 C263.8 431.7 269.0 429.6 274.1 427.6 C279.2 425.6 284.4 423.7 289.5 422.1 C294.6 420.4 299.8 418.9 304.9 417.6 C310.0 416.2 315.2 415.1 320.3 414.1 C325.4 413.1 330.6 412.2 335.7 411.6 C340.8 410.9 346.0 410.4 351.1 410.1 C356.2 409.7 363.9 409.7 366.5 409.6 M208.8 507.6 C211.4 505.1 219.1 497.2 224.2 492.5 C229.3 487.7 234.5 483.3 239.6 479.1 C244.7 474.9 249.9 471.1 255.0 467.5 C260.1 463.9 265.3 460.7 270.4 457.6 C275.5 454.5 280.7 451.8 285.8 449.1 C290.9 446.4 296.1 443.9 301.2 441.6 C306.3 439.3 311.5 437.1 316.6 435.1 C321.7 433.1 326.9 431.3 332.0 429.6 C337.1 427.9 342.3 426.4 347.4 425.1 C352.5 423.8 357.7 422.6 362.8 421.6 C367.9 420.6 373.1 419.8 378.2 419.1 C383.3 418.4 388.5 417.9 393.6 417.6 C398.7 417.3 406.4 417.2 409.0 417.1 M251.3 515.4 C253.9 512.9 261.6 505.0 266.7 500.3 C271.8 495.5 277.0 491.1 282.1 486.9 C287.2 482.7 292.4 478.9 297.5 475.3 C302.6 471.7 307.8 468.5 312.9 465.4 C318.0 462.3 323.2 459.6 328.3 456.9 C333.4 454.2 338.6 451.7 343.7 449.4 C348.8 447.1 354.0 444.9 359.1 442.9 C364.2 440.9 369.4 439.1 374.5 437.4 C379.6 435.7 384.8 434.2 389.9 432.9 C395.0 431.6 400.2 430.4 405.3 429.4 C410.4 428.4 415.6 427.6 420.7 426.9 C425.8 426.2 431.0 425.7 436.1 425.4 C441.2 425.1 448.9 425.0 451.5 424.9 M293.8 523.2 C296.4 520.7 304.1 512.8 309.2 508.1 C314.3 503.3 319.5 498.9 324.6 494.7 C329.7 490.5 334.9 486.7 340.0 483.1 C345.1 479.5 350.3 476.3 355.4 473.2 C360.5 470.1 365.7 467.4 370.8 464.7 C375.9 462.0 381.1 459.5 386.2 457.2 C391.3 454.9 396.5 452.7 401.6 450.7 C406.7 448.7 411.9 446.9 417.0 445.2 C422.1 443.5 427.3 442.0 432.4 440.7 C437.5 439.4 442.7 438.2 447.8 437.2 C452.9 436.2 458.1 435.4 463.2 434.7 C468.3 434.0 473.5 433.5 478.6 433.2 C483.7 432.9 491.4 432.8 494.0 432.7 M336.3 531.9 C338.9 529.4 346.6 521.5 351.7 516.8 C356.8 512.0 362.0 507.6 367.1 503.4 C372.2 499.2 377.4 495.4 382.5 491.8 C387.6 488.2 392.8 485.0 397.9 481.9 C403.0 478.8 408.2 476.1 413.3 473.4 C418.4 470.7 423.6 468.2 428.7 465.9 C433.8 463.6 439.0 461.4 444.1 459.4 C449.2 457.4 454.4 455.6 459.5 453.9 C464.6 452.2 469.8 450.7 474.9 449.4 C480.0 448.1 485.2 446.9 490.3 445.9 C495.4 444.9 500.6 444.1 505.7 443.4 C510.8 442.7 516.0 442.2 521.1 441.9 C526.2 441.6 533.9 441.5 536.5 441.4 M378.8 549.8 C381.4 547.3 389.1 539.4 394.2 534.7 C399.3 529.9 404.5 525.4 409.6 521.3 C414.7 517.1 419.9 513.2 425.0 509.7 C430.1 506.1 435.3 502.8 440.4 499.8 C445.5 496.7 450.7 493.9 455.8 491.3 C460.9 488.6 466.1 486.1 471.2 483.8 C476.3 481.4 481.5 479.3 486.6 477.3 C491.7 475.3 496.9 473.4 502.0 471.8 C507.1 470.1 512.3 468.6 517.4 467.3 C522.5 465.9 527.7 464.8 532.8 463.8 C537.9 462.8 543.1 461.9 548.2 461.3 C553.3 460.6 558.5 460.1 563.6 459.8 C568.7 459.4 576.4 459.4 579.0 459.3 M421.3 578.9 C423.9 576.3 431.6 568.5 436.7 563.7 C441.8 559.0 447.0 554.5 452.1 550.4 C457.2 546.2 462.4 542.3 467.5 538.7 C472.6 535.1 477.8 531.9 482.9 528.9 C488.0 525.8 493.2 523.0 498.3 520.4 C503.4 517.7 508.6 515.2 513.7 512.9 C518.8 510.5 524.0 508.4 529.1 506.4 C534.2 504.4 539.4 502.5 544.5 500.9 C549.6 499.2 554.8 497.7 559.9 496.4 C565.0 495.0 570.2 493.9 575.3 492.9 C580.4 491.9 585.6 491.0 590.7 490.4 C595.8 489.7 601.0 489.2 606.1 488.9 C611.2 488.5 618.9 488.4 621.5 488.4 M123.8 497.1 C127.3 497.2 138.0 497.3 145.1 497.8 C152.1 498.3 159.2 499.1 166.3 500.1 C173.4 501.0 180.5 502.4 187.6 503.7 C194.6 505.0 201.7 506.3 208.8 507.6 C215.9 508.9 223.0 510.2 230.0 511.5 C237.1 512.8 244.2 514.1 251.3 515.4 C258.4 516.7 265.5 518.0 272.5 519.3 C279.6 520.6 286.7 521.9 293.8 523.2 C300.9 524.5 308.0 525.7 315.0 527.1 C322.1 528.5 329.2 529.8 336.3 531.9 C343.4 534.0 350.5 536.5 357.5 539.4 C364.6 542.4 371.7 545.9 378.8 549.8 C385.9 553.7 393.0 558.1 400.0 562.9 C407.1 567.8 414.2 573.1 421.3 578.9 C428.4 584.6 435.5 590.9 442.5 597.6 C449.6 604.3 460.3 615.5 463.8 619.1 M154.6 468.6 C158.1 468.7 168.8 468.8 175.8 469.3 C182.9 469.8 190.0 470.6 197.1 471.6 C204.2 472.5 211.3 473.9 218.3 475.2 C225.4 476.5 232.5 477.8 239.6 479.1 C246.7 480.4 253.8 481.7 260.8 483.0 C267.9 484.3 275.0 485.6 282.1 486.9 C289.2 488.2 296.3 489.5 303.3 490.8 C310.4 492.1 317.5 493.4 324.6 494.7 C331.7 496.0 338.8 497.2 345.8 498.6 C352.9 500.0 360.0 501.3 367.1 503.4 C374.2 505.5 381.3 508.0 388.3 510.9 C395.4 513.9 402.5 517.4 409.6 521.3 C416.7 525.2 423.8 529.6 430.8 534.4 C437.9 539.3 445.0 544.6 452.1 550.4 C459.2 556.1 466.3 562.4 473.3 569.1 C480.4 575.8 491.1 587.0 494.6 590.6 M185.4 447.1 C188.9 447.2 199.6 447.3 206.7 447.8 C213.7 448.3 220.8 449.1 227.9 450.1 C235.0 451.0 242.1 452.4 249.2 453.7 C256.2 455.0 263.3 456.3 270.4 457.6 C277.5 458.9 284.6 460.2 291.6 461.5 C298.7 462.8 305.8 464.1 312.9 465.4 C320.0 466.7 327.1 468.0 334.1 469.3 C341.2 470.6 348.3 471.9 355.4 473.2 C362.5 474.5 369.6 475.7 376.6 477.1 C383.7 478.5 390.8 479.8 397.9 481.9 C405.0 484.0 412.1 486.5 419.1 489.4 C426.2 492.4 433.3 495.9 440.4 499.8 C447.5 503.7 454.6 508.1 461.6 512.9 C468.7 517.8 475.8 523.1 482.9 528.9 C490.0 534.6 497.1 540.9 504.1 547.6 C511.2 554.3 521.9 565.5 525.4 569.1 M216.2 431.1 C219.7 431.2 230.4 431.3 237.5 431.8 C244.5 432.3 251.6 433.1 258.7 434.1 C265.8 435.0 272.9 436.4 279.9 437.7 C287.0 439.0 294.1 440.3 301.2 441.6 C308.3 442.9 315.4 444.2 322.4 445.5 C329.5 446.8 336.6 448.1 343.7 449.4 C350.8 450.7 357.9 452.0 364.9 453.3 C372.0 454.6 379.1 455.9 386.2 457.2 C393.3 458.5 400.4 459.7 407.4 461.1 C414.5 462.5 421.6 463.8 428.7 465.9 C435.8 468.0 442.9 470.5 449.9 473.4 C457.0 476.4 464.1 479.9 471.2 483.8 C478.3 487.7 485.4 492.1 492.4 496.9 C499.5 501.8 506.6 507.1 513.7 512.9 C520.8 518.6 527.9 524.9 534.9 531.6 C542.0 538.3 552.7 549.5 556.2 553.1 M247.0 419.1 C250.5 419.2 261.2 419.3 268.2 419.8 C275.3 420.3 282.4 421.1 289.5 422.1 C296.6 423.0 303.7 424.4 310.8 425.7 C317.8 427.0 324.9 428.3 332.0 429.6 C339.1 430.9 346.2 432.2 353.2 433.5 C360.3 434.8 367.4 436.1 374.5 437.4 C381.6 438.7 388.7 440.0 395.8 441.3 C402.8 442.6 409.9 443.9 417.0 445.2 C424.1 446.5 431.2 447.7 438.2 449.1 C445.3 450.5 452.4 451.8 459.5 453.9 C466.6 456.0 473.7 458.5 480.8 461.4 C487.8 464.4 494.9 467.9 502.0 471.8 C509.1 475.7 516.2 480.1 523.2 484.9 C530.3 489.8 537.4 495.1 544.5 500.9 C551.6 506.6 558.7 512.9 565.8 519.6 C572.8 526.3 583.5 537.5 587.0 541.1 M277.8 411.1 C281.3 411.2 292.0 411.3 299.1 411.8 C306.1 412.3 313.2 413.1 320.3 414.1 C327.4 415.0 334.5 416.4 341.6 417.7 C348.6 419.0 355.7 420.3 362.8 421.6 C369.9 422.9 377.0 424.2 384.0 425.5 C391.1 426.8 398.2 428.1 405.3 429.4 C412.4 430.7 419.5 432.0 426.5 433.3 C433.6 434.6 440.7 435.9 447.8 437.2 C454.9 438.5 462.0 439.7 469.0 441.1 C476.1 442.5 483.2 443.8 490.3 445.9 C497.4 448.0 504.5 450.5 511.5 453.4 C518.6 456.4 525.7 459.9 532.8 463.8 C539.9 467.7 547.0 472.1 554.0 476.9 C561.1 481.8 568.2 487.1 575.3 492.9 C582.4 498.6 589.5 504.9 596.5 511.6 C603.6 518.3 614.3 529.5 617.8 533.1 M308.6 407.1 C312.1 407.2 322.8 407.3 329.9 407.8 C336.9 408.3 344.0 409.1 351.1 410.1 C358.2 411.0 365.3 412.4 372.4 413.7 C379.4 415.0 386.5 416.3 393.6 417.6 C400.7 418.9 407.8 420.2 414.8 421.5 C421.9 422.8 429.0 424.1 436.1 425.4 C443.2 426.7 450.3 428.0 457.3 429.3 C464.4 430.6 471.5 431.9 478.6 433.2 C485.7 434.5 492.8 435.7 499.8 437.1 C506.9 438.5 514.0 439.8 521.1 441.9 C528.2 444.0 535.3 446.5 542.4 449.4 C549.4 452.4 556.5 455.9 563.6 459.8 C570.7 463.7 577.8 468.1 584.9 472.9 C591.9 477.8 599.0 483.1 606.1 488.9 C613.2 494.6 620.3 500.9 627.4 507.6 C634.4 514.3 645.1 525.5 648.6 529.1" stroke="#ececec" stroke-width="1.1" fill="none" opacity="0.85"/>
<circle cx="123.8" cy="497.1" r="1.8" fill="#f4f4f4"/><circle cx="154.6" cy="468.6" r="1.8" fill="#f4f4f4"/><circle cx="185.4" cy="447.1" r="1.8" fill="#f4f4f4"/><circle cx="216.2" cy="431.1" r="1.8" fill="#f4f4f4"/><circle cx="247.0" cy="419.1" r="1.8" fill="#f4f4f4"/><circle cx="277.8" cy="411.1" r="1.8" fill="#f4f4f4"/><circle cx="308.6" cy="407.1" r="1.8" fill="#f4f4f4"/><circle cx="166.3" cy="500.1" r="1.8" fill="#f4f4f4"/><circle cx="197.1" cy="471.6" r="1.8" fill="#f4f4f4"/><circle cx="227.9" cy="450.1" r="1.8" fill="#f4f4f4"/><circle cx="258.7" cy="434.1" r="1.8" fill="#f4f4f4"/><circle cx="289.5" cy="422.1" r="1.8" fill="#f4f4f4"/><circle cx="320.3" cy="414.1" r="1.8" fill="#f4f4f4"/><circle cx="351.1" cy="410.1" r="1.8" fill="#f4f4f4"/><circle cx="208.8" cy="507.6" r="1.8" fill="#f4f4f4"/><circle cx="239.6" cy="479.1" r="1.8" fill="#f4f4f4"/><circle cx="270.4" cy="457.6" r="1.8" fill="#f4f4f4"/><circle cx="301.2" cy="441.6" r="1.8" fill="#f4f4f4"/><circle cx="332.0" cy="429.6" r="1.8" fill="#f4f4f4"/><circle cx="362.8" cy="421.6" r="1.8" fill="#f4f4f4"/><circle cx="393.6" cy="417.6" r="1.8" fill="#f4f4f4"/><circle cx="251.3" cy="515.4" r="1.8" fill="#f4f4f4"/><circle cx="282.1" cy="486.9" r="1.8" fill="#f4f4f4"/><circle cx="312.9" cy="465.4" r="1.8" fill="#f4f4f4"/><circle cx="343.7" cy="449.4" r="1.8" fill="#f4f4f4"/><circle cx="374.5" cy="437.4" r="1.8" fill="#f4f4f4"/><circle cx="405.3" cy="429.4" r="1.8" fill="#f4f4f4"/><circle cx="436.1" cy="425.4" r="1.8" fill="#f4f4f4"/><circle cx="293.8" cy="523.2" r="1.8" fill="#f4f4f4"/><circle cx="324.6" cy="494.7" r="1.8" fill="#f4f4f4"/><circle cx="355.4" cy="473.2" r="1.8" fill="#f4f4f4"/><circle cx="386.2" cy="457.2" r="1.8" fill="#f4f4f4"/><circle cx="417.0" cy="445.2" r="1.8" fill="#f4f4f4"/><circle cx="447.8" cy="437.2" r="1.8" fill="#f4f4f4"/><circle cx="478.6" cy="433.2" r="1.8" fill="#f4f4f4"/><circle cx="336.3" cy="531.9" r="1.8" fill="#f4f4f4"/><circle cx="367.1" cy="503.4" r="1.8" fill="#f4f4f4"/><circle cx="397.9" cy="481.9" r="1.8" fill="#f4f4f4"/><circle cx="428.7" cy="465.9" r="1.8" fill="#f4f4f4"/><circle cx="459.5" cy="453.9" r="1.8" fill="#f4f4f4"/><circle cx="490.3" cy="445.9" r="1.8" fill="#f4f4f4"/><circle cx="521.1" cy="441.9" r="1.8" fill="#f4f4f4"/><circle cx="378.8" cy="549.8" r="1.8" fill="#f4f4f4"/><circle cx="409.6" cy="521.3" r="1.8" fill="#f4f4f4"/><circle cx="440.4" cy="499.8" r="1.8" fill="#f4f4f4"/><circle cx="471.2" cy="483.8" r="1.8" fill="#f4f4f4"/><circle cx="502.0" cy="471.8" r="1.8" fill="#f4f4f4"/><circle cx="532.8" cy="463.8" r="1.8" fill="#f4f4f4"/><circle cx="563.6" cy="459.8" r="1.8" fill="#f4f4f4"/><circle cx="421.3" cy="578.9" r="1.8" fill="#f4f4f4"/><circle cx="452.1" cy="550.4" r="1.8" fill="#f4f4f4"/><circle cx="482.9" cy="528.9" r="1.8" fill="#f4f4f4"/><circle cx="513.7" cy="512.9" r="1.8" fill="#f4f4f4"/><circle cx="544.5" cy="500.9" r="1.8" fill="#f4f4f4"/><circle cx="575.3" cy="492.9" r="1.8" fill="#f4f4f4"/><circle cx="606.1" cy="488.9" r="1.8" fill="#f4f4f4"/>
</g>
<path d="M536 597 L575 601 L575 623 L536 620.4 C531 619 529 612 529.5 608 C530 602 532 598 536 597 Z" fill="#555" stroke="#262626" stroke-width="0.8"/>
<path d="M548.3 598 L548.3 622 M560.2 600 L560.2 623 M569.3 601 L569.3 624" stroke="#262626" stroke-width="0.8"/>
<path d="M569.3 601.2 L587.5 599.4 L610.3 614.9 L602.1 620.4 L587.5 625.8 L569.3 624 Z" fill="#4b4b4b" stroke="#262626" stroke-width="0.8"/>
<path d="M587.5 620.4 L602 618.5 L607.6 631.3 L593 635 Z" fill="#555" stroke="#262626" stroke-width="0.8"/>
<path d="M589.5 606 L591 614 C594 618 603 617 606 612 L607.5 603 Z" fill="#5c5c5c" stroke="#262626" stroke-width="0.8"/>
<ellipse cx="598.5" cy="604" rx="9" ry="5" transform="rotate(20 598.5 604)" fill="#3a3a3a" stroke="#262626" stroke-width="0.8"/>
<path d="M75.3 340L75.3 538.7" stroke="#222" stroke-width="1.5" fill="none" stroke-dasharray="7 6.5"/><path d="M75.3 538.7L172 538.7" stroke="#222" stroke-width="1.5" fill="none" stroke-dasharray="7 6.5"/><path d="M218.2 334L218.2 503" stroke="#222" stroke-width="1.5" fill="none" stroke-dasharray="7 6.5"/><path d="M374 333L374 440" stroke="#222" stroke-width="1.5" fill="none" stroke-dasharray="7 6.5"/><path d="M536.5 378L536.5 512" stroke="#222" stroke-width="1.5" fill="none" stroke-dasharray="7 6.5"/><path d="M138.5 606L138.5 670" stroke="#222" stroke-width="1.5" fill="none" stroke-dasharray="7 6.5"/><path d="M582 614L518.7 614" stroke="#222" stroke-width="1.5" fill="none" stroke-dasharray="7 6.5"/><path d="M518.7 614L518.7 730" stroke="#222" stroke-width="1.5" fill="none" stroke-dasharray="7 6.5"/>
<circle cx="173.9" cy="539" r="4.9" fill="#0a0a0a"/><circle cx="218.2" cy="503" r="4.9" fill="#0a0a0a"/><circle cx="373.5" cy="440" r="4.9" fill="#0a0a0a"/><circle cx="537" cy="512" r="4.9" fill="#0a0a0a"/><circle cx="138.5" cy="606.4" r="4.9" fill="#0a0a0a"/><circle cx="582" cy="614" r="4.9" fill="#0a0a0a"/>
<path d="M253.5 24.5L478.5 24.5" stroke="#1c1c1c" stroke-width="1.7" fill="none" stroke-dasharray="4.40 6.01 8.00 6.01 8.00 6.01 8.00 6.01 8.00 6.01 8.00 6.01 8.00 6.01 8.00 6.01 8.00 6.01 8.00 6.01 8.00 6.01 8.00 6.01 8.00 6.01 8.00 6.01 8.00 6.01 8.00 6.01 4.40 100.00"/><path d="M478.5 24.5L478.5 249" stroke="#1c1c1c" stroke-width="1.7" fill="none" stroke-dasharray="4.40 5.98 8.00 5.98 8.00 5.98 8.00 5.98 8.00 5.98 8.00 5.98 8.00 5.98 8.00 5.98 8.00 5.98 8.00 5.98 8.00 5.98 8.00 5.98 8.00 5.98 8.00 5.98 8.00 5.98 8.00 5.98 4.40 100.00"/><path d="M478.5 249L253.5 249" stroke="#1c1c1c" stroke-width="1.7" fill="none" stroke-dasharray="4.40 6.01 8.00 6.01 8.00 6.01 8.00 6.01 8.00 6.01 8.00 6.01 8.00 6.01 8.00 6.01 8.00 6.01 8.00 6.01 8.00 6.01 8.00 6.01 8.00 6.01 8.00 6.01 8.00 6.01 8.00 6.01 4.40 100.00"/><path d="M253.5 249L253.5 24.5" stroke="#1c1c1c" stroke-width="1.7" fill="none" stroke-dasharray="4.40 5.98 8.00 5.98 8.00 5.98 8.00 5.98 8.00 5.98 8.00 5.98 8.00 5.98 8.00 5.98 8.00 5.98 8.00 5.98 8.00 5.98 8.00 5.98 8.00 5.98 8.00 5.98 8.00 5.98 8.00 5.98 4.40 100.00"/><path d="M498.5 24.5L723.5 24.5" stroke="#1c1c1c" stroke-width="1.7" fill="none" stroke-dasharray="4.40 6.01 8.00 6.01 8.00 6.01 8.00 6.01 8.00 6.01 8.00 6.01 8.00 6.01 8.00 6.01 8.00 6.01 8.00 6.01 8.00 6.01 8.00 6.01 8.00 6.01 8.00 6.01 8.00 6.01 8.00 6.01 4.40 100.00"/><path d="M723.5 24.5L723.5 249" stroke="#1c1c1c" stroke-width="1.7" fill="none" stroke-dasharray="4.40 5.98 8.00 5.98 8.00 5.98 8.00 5.98 8.00 5.98 8.00 5.98 8.00 5.98 8.00 5.98 8.00 5.98 8.00 5.98 8.00 5.98 8.00 5.98 8.00 5.98 8.00 5.98 8.00 5.98 8.00 5.98 4.40 100.00"/><path d="M723.5 249L498.5 249" stroke="#1c1c1c" stroke-width="1.7" fill="none" stroke-dasharray="4.40 6.01 8.00 6.01 8.00 6.01 8.00 6.01 8.00 6.01 8.00 6.01 8.00 6.01 8.00 6.01 8.00 6.01 8.00 6.01 8.00 6.01 8.00 6.01 8.00 6.01 8.00 6.01 8.00 6.01 8.00 6.01 4.40 100.00"/><path d="M498.5 249L498.5 24.5" stroke="#1c1c1c" stroke-width="1.7" fill="none" stroke-dasharray="4.40 5.98 8.00 5.98 8.00 5.98 8.00 5.98 8.00 5.98 8.00 5.98 8.00 5.98 8.00 5.98 8.00 5.98 8.00 5.98 8.00 5.98 8.00 5.98 8.00 5.98 8.00 5.98 8.00 5.98 8.00 5.98 4.40 100.00"/><path d="M750 24.5L975 24.5" stroke="#1c1c1c" stroke-width="1.7" fill="none" stroke-dasharray="4.40 6.01 8.00 6.01 8.00 6.01 8.00 6.01 8.00 6.01 8.00 6.01 8.00 6.01 8.00 6.01 8.00 6.01 8.00 6.01 8.00 6.01 8.00 6.01 8.00 6.01 8.00 6.01 8.00 6.01 8.00 6.01 4.40 100.00"/><path d="M975 24.5L975 249" stroke="#1c1c1c" stroke-width="1.7" fill="none" stroke-dasharray="4.40 5.98 8.00 5.98 8.00 5.98 8.00 5.98 8.00 5.98 8.00 5.98 8.00 5.98 8.00 5.98 8.00 5.98 8.00 5.98 8.00 5.98 8.00 5.98 8.00 5.98 8.00 5.98 8.00 5.98 8.00 5.98 4.40 100.00"/><path d="M975 249L750 249" stroke="#1c1c1c" stroke-width="1.7" fill="none" stroke-dasharray="4.40 6.01 8.00 6.01 8.00 6.01 8.00 6.01 8.00 6.01 8.00 6.01 8.00 6.01 8.00 6.01 8.00 6.01 8.00 6.01 8.00 6.01 8.00 6.01 8.00 6.01 8.00 6.01 8.00 6.01 8.00 6.01 4.40 100.00"/><path d="M750 249L750 24.5" stroke="#1c1c1c" stroke-width="1.7" fill="none" stroke-dasharray="4.40 5.98 8.00 5.98 8.00 5.98 8.00 5.98 8.00 5.98 8.00 5.98 8.00 5.98 8.00 5.98 8.00 5.98 8.00 5.98 8.00 5.98 8.00 5.98 8.00 5.98 8.00 5.98 8.00 5.98 8.00 5.98 4.40 100.00"/><path d="M750 271.5L975 271.5" stroke="#1c1c1c" stroke-width="1.7" fill="none" stroke-dasharray="4.40 6.01 8.00 6.01 8.00 6.01 8.00 6.01 8.00 6.01 8.00 6.01 8.00 6.01 8.00 6.01 8.00 6.01 8.00 6.01 8.00 6.01 8.00 6.01 8.00 6.01 8.00 6.01 8.00 6.01 8.00 6.01 4.40 100.00"/><path d="M975 271.5L975 496.5" stroke="#1c1c1c" stroke-width="1.7" fill="none" stroke-dasharray="4.40 6.01 8.00 6.01 8.00 6.01 8.00 6.01 8.00 6.01 8.00 6.01 8.00 6.01 8.00 6.01 8.00 6.01 8.00 6.01 8.00 6.01 8.00 6.01 8.00 6.01 8.00 6.01 8.00 6.01 8.00 6.01 4.40 100.00"/><path d="M975 496.5L750 496.5" stroke="#1c1c1c" stroke-width="1.7" fill="none" stroke-dasharray="4.40 6.01 8.00 6.01 8.00 6.01 8.00 6.01 8.00 6.01 8.00 6.01 8.00 6.01 8.00 6.01 8.00 6.01 8.00 6.01 8.00 6.01 8.00 6.01 8.00 6.01 8.00 6.01 8.00 6.01 8.00 6.01 4.40 100.00"/><path d="M750 496.5L750 271.5" stroke="#1c1c1c" stroke-width="1.7" fill="none" stroke-dasharray="4.40 6.01 8.00 6.01 8.00 6.01 8.00 6.01 8.00 6.01 8.00 6.01 8.00 6.01 8.00 6.01 8.00 6.01 8.00 6.01 8.00 6.01 8.00 6.01 8.00 6.01 8.00 6.01 8.00 6.01 8.00 6.01 4.40 100.00"/><path d="M750 519L975 519" stroke="#1c1c1c" stroke-width="1.7" fill="none" stroke-dasharray="4.40 6.01 8.00 6.01 8.00 6.01 8.00 6.01 8.00 6.01 8.00 6.01 8.00 6.01 8.00 6.01 8.00 6.01 8.00 6.01 8.00 6.01 8.00 6.01 8.00 6.01 8.00 6.01 8.00 6.01 8.00 6.01 4.40 100.00"/><path d="M975 519L975 744" stroke="#1c1c1c" stroke-width="1.7" fill="none" stroke-dasharray="4.40 6.01 8.00 6.01 8.00 6.01 8.00 6.01 8.00 6.01 8.00 6.01 8.00 6.01 8.00 6.01 8.00 6.01 8.00 6.01 8.00 6.01 8.00 6.01 8.00 6.01 8.00 6.01 8.00 6.01 8.00 6.01 4.40 100.00"/><path d="M975 744L750 744" stroke="#1c1c1c" stroke-width="1.7" fill="none" stroke-dasharray="4.40 6.01 8.00 6.01 8.00 6.01 8.00 6.01 8.00 6.01 8.00 6.01 8.00 6.01 8.00 6.01 8.00 6.01 8.00 6.01 8.00 6.01 8.00 6.01 8.00 6.01 8.00 6.01 8.00 6.01 8.00 6.01 4.40 100.00"/><path d="M750 744L750 519" stroke="#1c1c1c" stroke-width="1.7" fill="none" stroke-dasharray="4.40 6.01 8.00 6.01 8.00 6.01 8.00 6.01 8.00 6.01 8.00 6.01 8.00 6.01 8.00 6.01 8.00 6.01 8.00 6.01 8.00 6.01 8.00 6.01 8.00 6.01 8.00 6.01 8.00 6.01 8.00 6.01 4.40 100.00"/><text x="77.6" y="55" font-size="20.3" font-weight="700" fill="#111" >ÜRETİM</text><text x="77.6" y="81.5" font-size="20.3" font-weight="700" fill="#111" >SÜRECİ</text><text x="78.2" y="305" font-size="20" font-weight="700" fill="#111" xml:space="preserve">DRONE  DETAYI</text><path d="M77.6 109.5H188.5M172.9 96.2L189 110.3L172.9 124.5" stroke="#111" stroke-width="2.1" fill="none"/><path d="M725.3 424.4V535M710.5 519.2L725.3 535.6L738.1 519.5" stroke="#111" stroke-width="2.1" fill="none"/><text x="261.5" y="215.10000000000002" font-size="11" font-weight="400" fill="#111" stroke="#111" stroke-width="0.5" >Yaklaşma</text><text x="261.5" y="227.20000000000002" font-size="10" font-weight="400" fill="#222" stroke="#222" stroke-width="0.18" >Görevini tamamlamış Abluka’yı başka bir yerde</text><text x="261.5" y="239.10000000000002" font-size="10" font-weight="400" fill="#222" stroke="#222" stroke-width="0.18" >kurmak amacıyla dronelar strüktüre yaklaşır.</text><text x="508" y="208.3" font-size="11" font-weight="400" fill="#111" stroke="#111" stroke-width="0.5" >Eritme</text><text x="508" y="220.0" font-size="10" font-weight="400" fill="#222" stroke="#222" stroke-width="0.18" >Ablukaya yaklaşan dronelar x ışını lazeriyle</text><text x="508" y="231.9" font-size="10" font-weight="400" fill="#222" stroke="#222" stroke-width="0.18" >polimelti eritmeye başlayıp eriyen malzemeyi</text><text x="508" y="242.9" font-size="10" font-weight="400" fill="#222" stroke="#222" stroke-width="0.18" >kapsüllerinde depolar.</text><text x="758" y="215.10000000000002" font-size="11" font-weight="400" fill="#111" stroke="#111" stroke-width="0.5" >Son Hal</text><text x="758" y="227.20000000000002" font-size="10" font-weight="400" fill="#222" stroke="#222" stroke-width="0.18" >Bu süreçler sonunda Abluka eski yerinden yeni</text><text x="758" y="239.10000000000002" font-size="10" font-weight="400" fill="#222" stroke="#222" stroke-width="0.18" >yerine aktarılmıştır.</text><text x="758" y="455.1" font-size="11" font-weight="400" fill="#111" stroke="#111" stroke-width="0.5" >Yolculuk</text><text x="758" y="467.2" font-size="10" font-weight="400" fill="#222" stroke="#222" stroke-width="0.18" >Eritme işleminden sonra polimelt depolayan</text><text x="758" y="479.1" font-size="10" font-weight="400" fill="#222" stroke="#222" stroke-width="0.18" >drone, başka yerde Abluka inşa etmek için yola</text><text x="758" y="491.0" font-size="10" font-weight="400" fill="#222" stroke="#222" stroke-width="0.18" >çıkar.</text><text x="758" y="678.8" font-size="11" font-weight="400" fill="#111" stroke="#111" stroke-width="0.5" >Püskürtme</text><text x="758" y="690.6999999999999" font-size="10" font-weight="400" fill="#222" stroke="#222" stroke-width="0.18" >Abluka’nın yerleşeceği yere karar verildikten</text><text x="758" y="703.0" font-size="10" font-weight="400" fill="#222" stroke="#222" stroke-width="0.18" >sonra buraya yönelen dronelardaki Polimelt</text><text x="758" y="714.6999999999999" font-size="10" font-weight="400" fill="#222" stroke="#222" stroke-width="0.18" >püskürtme borusundan strüktüre aktarılırken</text><text x="758" y="726.5999999999999" font-size="10" font-weight="400" fill="#222" stroke="#222" stroke-width="0.18" >aynı anda oksijen ile  etkileşime geçer ve</text><text x="758" y="738.3" font-size="10" font-weight="400" fill="#222" stroke="#222" stroke-width="0.18" > katılaşır.</text><text x="80.3" y="352.8" font-size="16" font-weight="400" fill="#1a1a1a" textLength="119.5" lengthAdjust="spacingAndGlyphs">Analiz Penceresi</text><text x="79.8" y="366.1" font-size="11" font-weight="400" fill="#222" stroke="#222" stroke-width="0.18" >Droneların çevrelerini analiz</text><text x="79.8" y="379.1" font-size="11" font-weight="400" fill="#222" stroke="#222" stroke-width="0.18" >etmeleri ve sorunları tespit</text><text x="79.8" y="392.1" font-size="11" font-weight="400" fill="#222" stroke="#222" stroke-width="0.18" >etmeleri için kullandıkları</text><text x="79.8" y="405" font-size="11" font-weight="400" fill="#222" stroke="#222" stroke-width="0.18" >penceredir. Çevre ile</text><text x="79.8" y="418" font-size="11" font-weight="400" fill="#222" stroke="#222" stroke-width="0.18" >etkileşimi sağlayan bir nevi</text><text x="79.8" y="430.9" font-size="11" font-weight="400" fill="#222" stroke="#222" stroke-width="0.18" >göz görevi görmektedir.</text><text x="224.7" y="346.6" font-size="16" font-weight="400" fill="#1a1a1a" textLength="147.5" lengthAdjust="spacingAndGlyphs">Polimelt Kapsülüleri</text><text x="224.7" y="359.2" font-size="11" font-weight="400" fill="#222" stroke="#222" stroke-width="0.18" >Sıvılaşmış olan polimelt’in</text><text x="224.7" y="372.2" font-size="11" font-weight="400" fill="#222" stroke="#222" stroke-width="0.18" >drone içerisinde depolandığı</text><text x="224.7" y="385.2" font-size="11" font-weight="400" fill="#222" stroke="#222" stroke-width="0.18" >tüperdir.</text><text x="382.9" y="344.6" font-size="16" font-weight="400" fill="#1a1a1a" textLength="113.5" lengthAdjust="spacingAndGlyphs">Güneş Panelleri</text><text x="382.9" y="357.4" font-size="11" font-weight="400" fill="#222" stroke="#222" stroke-width="0.18" >Gece-gündüz çalışan</text><text x="382.9" y="370.3" font-size="11" font-weight="400" fill="#222" stroke="#222" stroke-width="0.18" >dronelerin kendi kendilerine</text><text x="382.9" y="383.2" font-size="11" font-weight="400" fill="#222" stroke="#222" stroke-width="0.18" >yetebilmeleri için yerleştirilmiş</text><text x="382.9" y="396.1" font-size="11" font-weight="400" fill="#222" stroke="#222" stroke-width="0.18" >olan güneş panelleridir.</text><text x="543.5" y="390.3" font-size="16" font-weight="400" fill="#1a1a1a" >Lazer</text><text x="543.5" y="403.7" font-size="11" font-weight="400" fill="#222" stroke="#222" stroke-width="0.18" >Abluka’ya yakın mesafeden</text><text x="543.5" y="416.8" font-size="11" font-weight="400" fill="#222" stroke="#222" stroke-width="0.18" > yoğunlaşmış x ışınları göndererek</text><text x="543.5" y="430" font-size="11" font-weight="400" fill="#222" stroke="#222" stroke-width="0.18" >polimelti sıvı hale çeviren ekrandır</text><text x="147.3" y="647.9" font-size="16" font-weight="400" fill="#1a1a1a" >Pervaneler</text><text x="147.3" y="660.5" font-size="11" font-weight="400" fill="#222" stroke="#222" stroke-width="0.18" >Dronelerin hareket etmek için</text><text x="147.3" y="673.8" font-size="11" font-weight="400" fill="#222" stroke="#222" stroke-width="0.18" >kullandıkları pervanelerdir.</text><text x="526.2" y="664.4" font-size="16" font-weight="400" fill="#1a1a1a" textLength="136" lengthAdjust="spacingAndGlyphs">Püskürtme Borusu</text><text x="526.2" y="678" font-size="11" font-weight="400" fill="#222" stroke="#222" stroke-width="0.18" >Polimeltin püskürtülmesini ve</text><text x="526.2" y="691" font-size="11" font-weight="400" fill="#222" stroke="#222" stroke-width="0.18" >dronenin içine çekilmesini sağlayan</text><text x="526.2" y="703.8" font-size="11" font-weight="400" fill="#222" stroke="#222" stroke-width="0.18" >borudur. Hem püskürtme hem de</text><text x="526.2" y="716.7" font-size="11" font-weight="400" fill="#222" stroke="#222" stroke-width="0.18" >çekme işlemihareketli püskürtme</text><text x="526.2" y="729.6" font-size="11" font-weight="400" fill="#222" stroke="#222" stroke-width="0.18" >borusu sayesinde gerçekleşir.</text>
</svg>
</body></html>
